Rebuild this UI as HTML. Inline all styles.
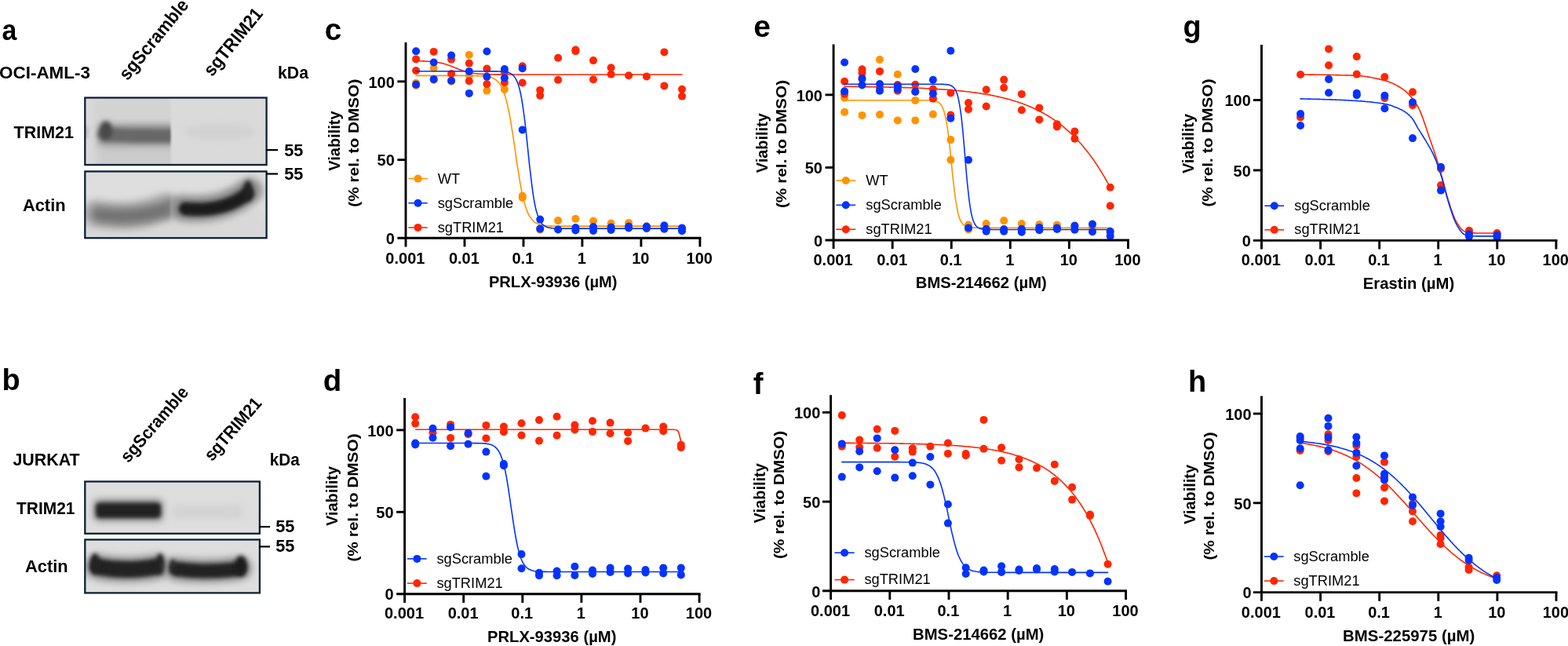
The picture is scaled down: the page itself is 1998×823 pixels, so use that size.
<!DOCTYPE html>
<html lang="en"><head><meta charset="utf-8"><title>Figure</title>
<style>html,body{margin:0;padding:0;background:#fff}body{width:1998px;height:823px;overflow:hidden}svg{display:block}text{font-family:'Liberation Sans', sans-serif}</style>
</head><body>
<svg width="1998" height="823" viewBox="0 0 1998 823">
<rect width="1998" height="823" fill="#fff"/>
<defs>
<filter id="b2" filterUnits="userSpaceOnUse" x="0" y="0" width="420" height="823"><feGaussianBlur stdDeviation="2.2"/></filter>
<filter id="b3" filterUnits="userSpaceOnUse" x="0" y="0" width="420" height="823"><feGaussianBlur stdDeviation="2.7"/></filter>
<filter id="b5" filterUnits="userSpaceOnUse" x="0" y="0" width="420" height="823"><feGaussianBlur stdDeviation="5"/></filter>
<filter id="b8" filterUnits="userSpaceOnUse" x="0" y="0" width="420" height="823"><feGaussianBlur stdDeviation="8"/></filter>
<filter id="b1" filterUnits="userSpaceOnUse" x="0" y="0" width="420" height="823"><feGaussianBlur stdDeviation="1.3"/></filter>
<clipPath id="la1"><rect x="100" y="100" width="117.5" height="130"/></clipPath>
<clipPath id="la2"><rect x="100" y="200" width="117" height="130"/></clipPath>
<clipPath id="ca1"><rect x="108.3" y="124.5" width="231.3" height="85.5"/></clipPath>
<clipPath id="ca2"><rect x="108.3" y="218.4" width="231.3" height="84.8"/></clipPath>
<clipPath id="cb1"><rect x="108.3" y="613.5" width="222.6" height="66.3"/></clipPath>
<clipPath id="cb2"><rect x="108.3" y="687.5" width="222.6" height="67.9"/></clipPath>
</defs>
<g clip-path="url(#ca1)">
<rect x="108.3" y="124.5" width="231.3" height="85.5" fill="#DADADA"/>
<g filter="url(#b1)"><g clip-path="url(#la1)">
<rect x="118" y="120" width="104" height="96" fill="#D3D3D3" filter="url(#b5)"/>
<rect x="126" y="184" width="100" height="30" fill="#CBCBCB" filter="url(#b5)"/>
<rect x="126" y="159" width="100" height="26" fill="#858585" filter="url(#b5)"/>
<path d="M132,171 Q170,174 224,173" stroke="#686868" stroke-width="16" fill="none" stroke-linecap="round" filter="url(#b3)"/>
<ellipse cx="135" cy="166" rx="8" ry="12" fill="#484848" filter="url(#b3)"/>
</g></g>
<ellipse cx="109" cy="168" rx="4" ry="9" fill="#BDBDBD" filter="url(#b3)"/>
<ellipse cx="280" cy="168" rx="48" ry="10" fill="#D1D1D1" filter="url(#b5)"/>
</g>
<rect x="108.3" y="124.5" width="231.3" height="85.5" fill="none" stroke="#0C2233" stroke-width="2.3"/>
<g clip-path="url(#ca2)">
<rect x="108.3" y="218.4" width="231.3" height="84.8" fill="#DEDEDE"/>
<rect x="100" y="268" width="250" height="50" fill="#D8D8D8" filter="url(#b8)"/>
<path d="M122,272 Q170,281 212,263" stroke="#A8A8A8" stroke-width="34" fill="none" stroke-linecap="round" filter="url(#b5)"/>
<g filter="url(#b1)"><g clip-path="url(#la2)">
<path d="M126,273 Q170,282 226,262" stroke="#727272" stroke-width="19" fill="none" stroke-linecap="round" filter="url(#b5)"/>
</g></g>
<path d="M233,265 Q282,271 318,243" stroke="#8A8A8A" stroke-width="33" fill="none" stroke-linecap="round" filter="url(#b5)"/>
<path d="M236,266 Q284,271 315,247" stroke="#1A1A1A" stroke-width="17" fill="none" stroke-linecap="round" filter="url(#b3)"/>
<ellipse cx="316" cy="243" rx="6" ry="13" fill="#222222" filter="url(#b3)"/>
</g>
<rect x="108.3" y="218.4" width="231.3" height="84.8" fill="none" stroke="#0C2233" stroke-width="2.3"/>
<g clip-path="url(#cb1)">
<rect x="108.3" y="613.5" width="222.6" height="66.3" fill="#DEDEDE"/>
<rect x="119" y="636" width="89" height="28" rx="6" fill="#8E8E8E" filter="url(#b5)"/>
<rect x="122" y="640.5" width="83" height="19.5" rx="5" fill="#202020" filter="url(#b3)"/>
<rect x="218" y="643" width="92" height="18" rx="6" fill="#D3D3D3" filter="url(#b5)"/>
</g>
<rect x="108.3" y="613.5" width="222.6" height="66.3" fill="none" stroke="#0C2233" stroke-width="2.3"/>
<g clip-path="url(#cb2)">
<rect x="108.3" y="687.5" width="222.6" height="67.9" fill="#DEDEDE"/>
<path d="M124,722 Q160,729 201,722" stroke="#8C8C8C" stroke-width="32" fill="none" stroke-linecap="round" filter="url(#b5)"/>
<path d="M125,722 Q160,729 200,722" stroke="#202020" stroke-width="21" fill="none" stroke-linecap="round" filter="url(#b3)"/>
<ellipse cx="121" cy="718" rx="6" ry="13" fill="#202020" filter="url(#b3)"/>
<ellipse cx="204" cy="718" rx="5" ry="13" fill="#202020" filter="url(#b3)"/>
<path d="M225,725 Q262,730 306,724" stroke="#8C8C8C" stroke-width="30" fill="none" stroke-linecap="round" filter="url(#b5)"/>
<path d="M225,725 Q262,730 304,725" stroke="#202020" stroke-width="18" fill="none" stroke-linecap="round" filter="url(#b3)"/>
<ellipse cx="220" cy="721" rx="4" ry="9" fill="#2A2A2A" filter="url(#b3)"/>
<ellipse cx="307" cy="721" rx="8" ry="13" fill="#1C1C1C" filter="url(#b3)"/>
</g>
<rect x="108.3" y="687.5" width="222.6" height="67.9" fill="none" stroke="#0C2233" stroke-width="2.3"/>
<text x="2.4" y="51.2" font-size="37" font-weight="700" textLength="18.8" lengthAdjust="spacingAndGlyphs">a</text>
<text x="2.4" y="497" font-size="38" font-weight="700">b</text>
<text x="-1" y="99.6" font-size="22.2" font-weight="700" textLength="116" lengthAdjust="spacingAndGlyphs">OCI-AML-3</text>
<text x="354" y="99.6" font-size="22.2" font-weight="700" textLength="39" lengthAdjust="spacingAndGlyphs">kDa</text>
<text x="17.6" y="176" font-size="22.2" font-weight="700" textLength="76.4" lengthAdjust="spacingAndGlyphs">TRIM21</text>
<text x="28.9" y="269.2" font-size="22.2" font-weight="700" textLength="54.7" lengthAdjust="spacingAndGlyphs">Actin</text>
<text x="162.5" y="103.5" font-size="23.5" font-weight="700" textLength="124.7" lengthAdjust="spacingAndGlyphs" transform="rotate(-50.7 162.5 103.5)">sgScramble</text>
<text x="270.3" y="98.4" font-size="23.5" font-weight="700" textLength="103.9" lengthAdjust="spacingAndGlyphs" transform="rotate(-50.7 270.3 98.4)">sgTRIM21</text>
<text x="16.4" y="592.8" font-size="21.6" font-weight="700" textLength="85.2" lengthAdjust="spacingAndGlyphs">JURKAT</text>
<text x="343.7" y="592.8" font-size="21.6" font-weight="700" textLength="38" lengthAdjust="spacingAndGlyphs">kDa</text>
<text x="21" y="655" font-size="21.6" font-weight="700" textLength="74.5" lengthAdjust="spacingAndGlyphs">TRIM21</text>
<text x="32" y="728.8" font-size="21.6" font-weight="700" textLength="54.7" lengthAdjust="spacingAndGlyphs">Actin</text>
<text x="163.5" y="590.5" font-size="22.5" font-weight="700" textLength="119" lengthAdjust="spacingAndGlyphs" transform="rotate(-49.2 163.5 590.5)">sgScramble</text>
<text x="270.2" y="588.6" font-size="22.5" font-weight="700" textLength="98.2" lengthAdjust="spacingAndGlyphs" transform="rotate(-49 270.2 588.6)">sgTRIM21</text>
<g stroke="#000" stroke-width="2.2">
<path d="M339,191.1 H354"/><path d="M339,221.5 H354"/>
<path d="M330,671.1 H344"/><path d="M330,696.4 H344"/>
</g>
<text x="362.2" y="199.3" font-size="21.7" font-weight="700" textLength="24.2" lengthAdjust="spacingAndGlyphs">55</text>
<text x="362.2" y="228.7" font-size="21.7" font-weight="700" textLength="24.2" lengthAdjust="spacingAndGlyphs">55</text>
<text x="351.2" y="678.3" font-size="21.7" font-weight="700" textLength="24.2" lengthAdjust="spacingAndGlyphs">55</text>
<text x="351.2" y="703.1" font-size="21.7" font-weight="700" textLength="24.2" lengthAdjust="spacingAndGlyphs">55</text>
<path d="M530.1,96.4 L531.5,96.4 L532.9,96.4 L534.4,96.4 L535.8,96.4 L537.2,96.4 L538.6,96.4 L540,96.4 L541.4,96.4 L542.9,96.4 L544.3,96.4 L545.7,96.4 L547.1,96.4 L548.5,96.4 L550,96.4 L551.4,96.4 L552.8,96.4 L554.2,96.4 L555.6,96.4 L557,96.4 L558.5,96.4 L559.9,96.4 L561.3,96.4 L562.7,96.4 L564.1,96.4 L565.5,96.4 L567,96.4 L568.4,96.4 L569.8,96.4 L571.2,96.4 L572.6,96.4 L574.1,96.4 L575.5,96.4 L576.9,96.4 L578.3,96.4 L579.7,96.4 L581.1,96.4 L582.6,96.4 L584,96.4 L585.4,96.4 L586.8,96.4 L588.2,96.4 L589.7,96.4 L591.1,96.4 L592.5,96.4 L593.9,96.4 L595.3,96.4 L596.7,96.5 L598.2,96.5 L599.6,96.5 L601,96.5 L602.4,96.5 L603.8,96.5 L605.3,96.5 L606.7,96.6 L608.1,96.6 L609.5,96.6 L610.9,96.7 L612.3,96.7 L613.8,96.8 L615.2,96.9 L616.6,97 L618,97.2 L619.4,97.3 L620.9,97.5 L622.3,97.8 L623.7,98.1 L625.1,98.5 L626.5,98.9 L627.9,99.5 L629.4,100.2 L630.8,101 L632.2,102 L633.6,103.2 L635,104.7 L636.4,106.5 L637.9,108.6 L639.3,111.2 L640.7,114.2 L642.1,117.8 L643.5,122 L645,126.9 L646.4,132.6 L647.8,139 L649.2,146.1 L650.6,154 L652,162.6 L653.5,171.7 L654.9,181.2 L656.3,191 L657.7,200.8 L659.1,210.4 L660.6,219.6 L662,228.4 L663.4,236.4 L664.8,243.8 L666.2,250.4 L667.6,256.2 L669.1,261.3 L670.5,265.7 L671.9,269.4 L673.3,272.6 L674.7,275.3 L676.2,277.5 L677.6,279.4 L679,281 L680.4,282.3 L681.8,283.3 L683.2,284.2 L684.7,284.9 L686.1,285.5 L687.5,286 L688.9,286.4 L690.3,286.7 L691.8,287 L693.2,287.2 L694.6,287.4 L696,287.5 L697.4,287.6 L698.8,287.7 L700.3,287.8 L701.7,287.9 L703.1,287.9 L704.5,288 L705.9,288 L707.3,288 L708.8,288 L710.2,288.1 L711.6,288.1 L713,288.1 L714.4,288.1 L715.9,288.1 L717.3,288.1 L718.7,288.1 L720.1,288.1 L721.5,288.1 L722.9,288.1 L724.4,288.1 L725.8,288.1 L727.2,288.1 L728.6,288.1 L730,288.1 L731.5,288.1 L732.9,288.1 L734.3,288.1 L735.7,288.1 L737.1,288.1 L738.5,288.1 L740,288.1 L741.4,288.1 L742.8,288.1 L744.2,288.1 L745.6,288.1 L747.1,288.1 L748.5,288.1 L749.9,288.1 L751.3,288.1 L752.7,288.1 L754.1,288.1 L755.6,288.1 L757,288.1 L758.4,288.1 L759.8,288.1 L761.2,288.1 L762.7,288.1 L764.1,288.1 L765.5,288.1 L766.9,288.1 L768.3,288.1 L769.7,288.1 L771.2,288.1 L772.6,288.1 L774,288.1 L775.4,288.1 L776.8,288.1 L778.2,288.1 L779.7,288.1 L781.1,288.1 L782.5,288.1 L783.9,288.1 L785.3,288.1 L786.8,288.1 L788.2,288.1 L789.6,288.1 L791,288.1 L792.4,288.1 L793.8,288.1 L795.3,288.1 L796.7,288.1 L798.1,288.1 L799.5,288.1 L800.9,288.1 L802.4,288.1 L803.8,288.1 L805.2,288.1 L806.6,288.1 L808,288.1 L809.4,288.1 L810.9,288.1 L812.3,288.1 L813.7,288.1 L815.1,288.1 L816.5,288.1 L818,288.1 L819.4,288.1 L820.8,288.1 L822.2,288.1 L823.6,288.1 L825,288.1 L826.5,288.1 L827.9,288.1 L829.3,288.1 L830.7,288.1 L832.1,288.1 L833.6,288.1 L835,288.1 L836.4,288.1 L837.8,288.1 L839.2,288.1 L840.6,288.1 L842.1,288.1 L843.5,288.1 L844.9,288.1 L846.3,288.1 L847.7,288.1 L849.1,288.1 L850.6,288.1 L852,288.1 L853.4,288.1 L854.8,288.1 L856.2,288.1 L857.7,288.1 L859.1,288.1 L860.5,288.1 L861.9,288.1 L863.3,288.1 L864.7,288.1 L866.2,288.1 L867.6,288.1 L869,288.1" fill="none" stroke="#FF9300" stroke-width="1.6" stroke-linejoin="round" stroke-linecap="round"/>
<g fill="#FF9300">
<circle cx="530.1" cy="105.9" r="5.0"/>
<circle cx="530.1" cy="109" r="5.0"/>
<circle cx="552.7" cy="86.7" r="5.0"/>
<circle cx="552.7" cy="101.9" r="5.0"/>
<circle cx="575.1" cy="103.8" r="5.0"/>
<circle cx="597.8" cy="69.9" r="5.0"/>
<circle cx="597.8" cy="96.4" r="5.0"/>
<circle cx="620.4" cy="115.6" r="5.0"/>
<circle cx="642.9" cy="113.9" r="5.0"/>
<circle cx="665.7" cy="249.6" r="5.0"/>
<circle cx="665.7" cy="252" r="5.0"/>
<circle cx="688.2" cy="292.8" r="5.0"/>
<circle cx="711.1" cy="281.1" r="5.0"/>
<circle cx="733.4" cy="278.8" r="5.0"/>
<circle cx="756" cy="281.5" r="5.0"/>
<circle cx="778.6" cy="284.6" r="5.0"/>
<circle cx="801.1" cy="284" r="5.0"/>
<circle cx="823.9" cy="288.5" r="5.0"/>
<circle cx="846.4" cy="288.5" r="5.0"/>
<circle cx="869" cy="292" r="5.0"/>
</g>
<path d="M530.1,77.6 L531.8,77.7 L533.5,77.7 L535.2,77.8 L536.9,77.8 L538.6,77.9 L540.3,77.9 L542,78 L543.7,78.1 L545.4,78.2 L547.1,78.3 L548.8,78.4 L550.5,78.6 L552.2,78.8 L553.9,79 L555.6,79.2 L557.3,79.5 L559.1,79.7 L560.8,80.1 L562.5,80.4 L564.2,80.8 L565.9,81.3 L567.6,81.8 L569.3,82.3 L571,82.9 L572.7,83.5 L574.4,84.1 L576.1,84.8 L577.8,85.5 L579.5,86.2 L581.2,86.8 L582.9,87.5 L584.6,88.2 L586.3,88.8 L588,89.4 L589.7,90 L591.4,90.6 L593.1,91.1 L594.8,91.5 L596.5,91.9 L598.2,92.3 L599.9,92.7 L601.6,93 L603.3,93.2 L605,93.5 L606.7,93.7 L608.4,93.9 L610.1,94 L611.8,94.2 L613.5,94.3 L615.3,94.4 L617,94.5 L618.7,94.5 L620.4,94.6 L622.1,94.7 L623.8,94.7 L625.5,94.8 L627.2,94.8 L628.9,94.8 L630.6,94.9 L632.3,94.9 L634,94.9 L635.7,94.9 L637.4,94.9 L639.1,94.9 L640.8,95 L642.5,95 L644.2,95 L645.9,95 L647.6,95 L649.3,95 L651,95 L652.7,95 L654.4,95 L656.1,95 L657.8,95 L659.5,95 L661.2,95 L662.9,95 L664.6,95 L666.3,95 L668,95 L669.7,95 L671.5,95 L673.2,95 L674.9,95 L676.6,95 L678.3,95 L680,95 L681.7,95 L683.4,95 L685.1,95 L686.8,95 L688.5,95 L690.2,95 L691.9,95 L693.6,95 L695.3,95 L697,95 L698.7,95 L700.4,95 L702.1,95 L703.8,95 L705.5,95 L707.2,95 L708.9,95 L710.6,95 L712.3,95 L714,95 L715.7,95 L717.4,95 L719.1,95 L720.8,95 L722.5,95 L724.2,95 L725.9,95 L727.6,95 L729.4,95 L731.1,95 L732.8,95 L734.5,95 L736.2,95 L737.9,95 L739.6,95 L741.3,95 L743,95 L744.7,95 L746.4,95 L748.1,95 L749.8,95 L751.5,95 L753.2,95 L754.9,95 L756.6,95 L758.3,95 L760,95 L761.7,95 L763.4,95 L765.1,95 L766.8,95 L768.5,95 L770.2,95 L771.9,95 L773.6,95 L775.3,95 L777,95 L778.7,95 L780.4,95 L782.1,95 L783.8,95 L785.6,95 L787.3,95 L789,95 L790.7,95 L792.4,95 L794.1,95 L795.8,95 L797.5,95 L799.2,95 L800.9,95 L802.6,95 L804.3,95 L806,95 L807.7,95 L809.4,95 L811.1,95 L812.8,95 L814.5,95 L816.2,95 L817.9,95 L819.6,95 L821.3,95 L823,95 L824.7,95 L826.4,95 L828.1,95 L829.8,95 L831.5,95 L833.2,95 L834.9,95 L836.6,95 L838.3,95 L840,95 L841.8,95 L843.5,95 L845.2,95 L846.9,95 L848.6,95 L850.3,95 L852,95 L853.7,95 L855.4,95 L857.1,95 L858.8,95 L860.5,95 L862.2,95 L863.9,95 L865.6,95 L867.3,95 L869,95" fill="none" stroke="#FF2600" stroke-width="1.6" stroke-linejoin="round" stroke-linecap="round"/>
<g fill="#FF2600">
<circle cx="530.1" cy="75.4" r="5.0"/>
<circle cx="530.1" cy="90" r="5.0"/>
<circle cx="552.7" cy="65.9" r="5.0"/>
<circle cx="575.1" cy="75.6" r="5.0"/>
<circle cx="575.1" cy="93.9" r="5.0"/>
<circle cx="597.8" cy="80.6" r="5.0"/>
<circle cx="597.8" cy="103.2" r="5.0"/>
<circle cx="620.4" cy="87.6" r="5.0"/>
<circle cx="620.4" cy="107.1" r="5.0"/>
<circle cx="642.9" cy="91.5" r="5.0"/>
<circle cx="642.9" cy="105.1" r="5.0"/>
<circle cx="665.7" cy="84.3" r="5.0"/>
<circle cx="665.7" cy="105.5" r="5.0"/>
<circle cx="688.2" cy="114.9" r="5.0"/>
<circle cx="688.2" cy="121.7" r="5.0"/>
<circle cx="711.1" cy="73.8" r="5.0"/>
<circle cx="711.1" cy="101.8" r="5.0"/>
<circle cx="733.4" cy="63.6" r="5.0"/>
<circle cx="733.4" cy="65.2" r="5.0"/>
<circle cx="756" cy="77.1" r="5.0"/>
<circle cx="756" cy="101.2" r="5.0"/>
<circle cx="778.6" cy="86.3" r="5.0"/>
<circle cx="778.6" cy="94.6" r="5.0"/>
<circle cx="801.1" cy="96.2" r="5.0"/>
<circle cx="823.9" cy="97.4" r="5.0"/>
<circle cx="846.4" cy="66.4" r="5.0"/>
<circle cx="846.4" cy="109.4" r="5.0"/>
<circle cx="869" cy="113.7" r="5.0"/>
<circle cx="869" cy="122.6" r="5.0"/>
</g>
<path d="M530.1,90.8 L531.5,90.8 L532.9,90.8 L534.4,90.8 L535.8,90.8 L537.2,90.8 L538.6,90.8 L540,90.8 L541.4,90.8 L542.9,90.8 L544.3,90.8 L545.7,90.8 L547.1,90.8 L548.5,90.8 L550,90.8 L551.4,90.8 L552.8,90.8 L554.2,90.8 L555.6,90.8 L557,90.8 L558.5,90.8 L559.9,90.8 L561.3,90.8 L562.7,90.8 L564.1,90.8 L565.5,90.8 L567,90.8 L568.4,90.8 L569.8,90.8 L571.2,90.8 L572.6,90.8 L574.1,90.8 L575.5,90.8 L576.9,90.8 L578.3,90.8 L579.7,90.8 L581.1,90.8 L582.6,90.8 L584,90.8 L585.4,90.8 L586.8,90.8 L588.2,90.8 L589.7,90.8 L591.1,90.8 L592.5,90.8 L593.9,90.8 L595.3,90.8 L596.7,90.8 L598.2,90.8 L599.6,90.8 L601,90.8 L602.4,90.8 L603.8,90.8 L605.3,90.8 L606.7,90.8 L608.1,90.8 L609.5,90.8 L610.9,90.8 L612.3,90.8 L613.8,90.8 L615.2,90.8 L616.6,90.8 L618,90.8 L619.4,90.8 L620.9,90.8 L622.3,90.8 L623.7,90.8 L625.1,90.9 L626.5,90.9 L627.9,90.9 L629.4,90.9 L630.8,90.9 L632.2,90.9 L633.6,90.9 L635,91 L636.4,91 L637.9,91.1 L639.3,91.1 L640.7,91.2 L642.1,91.4 L643.5,91.5 L645,91.8 L646.4,92.1 L647.8,92.4 L649.2,92.9 L650.6,93.6 L652,94.4 L653.5,95.6 L654.9,97 L656.3,98.9 L657.7,101.3 L659.1,104.4 L660.6,108.3 L662,113.1 L663.4,119.2 L664.8,126.5 L666.2,135.3 L667.6,145.5 L669.1,157.1 L670.5,169.7 L671.9,183.2 L673.3,196.9 L674.7,210.4 L676.2,223.2 L677.6,234.9 L679,245.3 L680.4,254.3 L681.8,261.8 L683.2,268.1 L684.7,273.1 L686.1,277.1 L687.5,280.3 L688.9,282.8 L690.3,284.7 L691.8,286.2 L693.2,287.4 L694.6,288.3 L696,288.9 L697.4,289.5 L698.8,289.9 L700.3,290.2 L701.7,290.4 L703.1,290.6 L704.5,290.7 L705.9,290.8 L707.3,290.9 L708.8,290.9 L710.2,291 L711.6,291 L713,291 L714.4,291.1 L715.9,291.1 L717.3,291.1 L718.7,291.1 L720.1,291.1 L721.5,291.1 L722.9,291.1 L724.4,291.1 L725.8,291.1 L727.2,291.1 L728.6,291.1 L730,291.1 L731.5,291.1 L732.9,291.1 L734.3,291.1 L735.7,291.1 L737.1,291.1 L738.5,291.1 L740,291.1 L741.4,291.1 L742.8,291.1 L744.2,291.1 L745.6,291.1 L747.1,291.1 L748.5,291.1 L749.9,291.1 L751.3,291.1 L752.7,291.1 L754.1,291.1 L755.6,291.1 L757,291.1 L758.4,291.1 L759.8,291.1 L761.2,291.1 L762.7,291.1 L764.1,291.1 L765.5,291.1 L766.9,291.1 L768.3,291.1 L769.7,291.1 L771.2,291.1 L772.6,291.1 L774,291.1 L775.4,291.1 L776.8,291.1 L778.2,291.1 L779.7,291.1 L781.1,291.1 L782.5,291.1 L783.9,291.1 L785.3,291.1 L786.8,291.1 L788.2,291.1 L789.6,291.1 L791,291.1 L792.4,291.1 L793.8,291.1 L795.3,291.1 L796.7,291.1 L798.1,291.1 L799.5,291.1 L800.9,291.1 L802.4,291.1 L803.8,291.1 L805.2,291.1 L806.6,291.1 L808,291.1 L809.4,291.1 L810.9,291.1 L812.3,291.1 L813.7,291.1 L815.1,291.1 L816.5,291.1 L818,291.1 L819.4,291.1 L820.8,291.1 L822.2,291.1 L823.6,291.1 L825,291.1 L826.5,291.1 L827.9,291.1 L829.3,291.1 L830.7,291.1 L832.1,291.1 L833.6,291.1 L835,291.1 L836.4,291.1 L837.8,291.1 L839.2,291.1 L840.6,291.1 L842.1,291.1 L843.5,291.1 L844.9,291.1 L846.3,291.1 L847.7,291.1 L849.1,291.1 L850.6,291.1 L852,291.1 L853.4,291.1 L854.8,291.1 L856.2,291.1 L857.7,291.1 L859.1,291.1 L860.5,291.1 L861.9,291.1 L863.3,291.1 L864.7,291.1 L866.2,291.1 L867.6,291.1 L869,291.1" fill="none" stroke="#0433FF" stroke-width="1.6" stroke-linejoin="round" stroke-linecap="round"/>
<g fill="#0433FF">
<circle cx="530.1" cy="65.3" r="5.0"/>
<circle cx="530.1" cy="107.7" r="5.0"/>
<circle cx="552.7" cy="79.5" r="5.0"/>
<circle cx="552.7" cy="100.9" r="5.0"/>
<circle cx="575.1" cy="70.5" r="5.0"/>
<circle cx="575.1" cy="102.8" r="5.0"/>
<circle cx="597.8" cy="90.9" r="5.0"/>
<circle cx="597.8" cy="118.9" r="5.0"/>
<circle cx="620.4" cy="65.5" r="5.0"/>
<circle cx="620.4" cy="97.6" r="5.0"/>
<circle cx="642.9" cy="88" r="5.0"/>
<circle cx="642.9" cy="99.3" r="5.0"/>
<circle cx="665.7" cy="87.2" r="5.0"/>
<circle cx="665.7" cy="165.4" r="5.0"/>
<circle cx="688.2" cy="279.6" r="5.0"/>
<circle cx="688.2" cy="291.4" r="5.0"/>
<circle cx="711.1" cy="292.4" r="5.0"/>
<circle cx="733.4" cy="290" r="5.0"/>
<circle cx="733.4" cy="293.5" r="5.0"/>
<circle cx="756" cy="289" r="5.0"/>
<circle cx="756" cy="294" r="5.0"/>
<circle cx="778.6" cy="289.5" r="5.0"/>
<circle cx="778.6" cy="293" r="5.0"/>
<circle cx="801.1" cy="288.5" r="5.0"/>
<circle cx="801.1" cy="290.5" r="5.0"/>
<circle cx="823.9" cy="288.5" r="5.0"/>
<circle cx="823.9" cy="291" r="5.0"/>
<circle cx="846.4" cy="287.3" r="5.0"/>
<circle cx="846.4" cy="291.8" r="5.0"/>
<circle cx="869" cy="290.4" r="5.0"/>
<circle cx="869" cy="294.3" r="5.0"/>
</g>
<g stroke="#000" stroke-width="2.9" fill="none" stroke-linecap="butt">
<path d="M517,54 V314.4"/>
<path d="M506.4,303.3 H893.4"/>
<path d="M592,303.3 V314.4"/>
<path d="M667,303.3 V314.4"/>
<path d="M741.9,303.3 V314.4"/>
<path d="M816.9,303.3 V314.4"/>
<path d="M891.9,303.3 V314.4"/>
<path d="M506.4,203.6 H517"/>
<path d="M506.4,103.8 H517"/>
</g>
<g font-size="20" font-weight="700">
<text x="516.4" y="336.2" text-anchor="middle">0.001</text>
<text x="591.4" y="336.2" text-anchor="middle">0.01</text>
<text x="666.4" y="336.2" text-anchor="middle">0.1</text>
<text x="741.3" y="336.2" text-anchor="middle">1</text>
<text x="816.3" y="336.2" text-anchor="middle">10</text>
<text x="891.3" y="336.2" text-anchor="middle">100</text>
<text x="502.8" y="311" text-anchor="end">0</text>
<text x="502.8" y="211.2" text-anchor="end">50</text>
<text x="502.8" y="111.5" text-anchor="end">100</text>
</g>
<path d="M520.4,227.6 H544.7" stroke="#FF9300" stroke-width="1.6"/>
<circle cx="532.5" cy="227.6" r="5" fill="#FF9300"/>
<text x="557.7" y="233.5" font-size="18.3">WT</text>
<path d="M520.4,258.7 H544.7" stroke="#0433FF" stroke-width="1.6"/>
<circle cx="532.5" cy="258.7" r="5" fill="#0433FF"/>
<text x="557.7" y="264.7" font-size="18.3">sgScramble</text>
<path d="M520.4,289.9 H544.7" stroke="#FF2600" stroke-width="1.6"/>
<circle cx="532.5" cy="289.9" r="5" fill="#FF2600"/>
<text x="557.7" y="295.9" font-size="18.3">sgTRIM21</text>
<text x="704.7" y="366.4" font-size="20" font-weight="700" text-anchor="middle" textLength="163.5" lengthAdjust="spacingAndGlyphs">PRLX-93936 (µM)</text>
<text x="433" y="179.6" font-size="20" font-weight="700" text-anchor="middle" textLength="76.2" lengthAdjust="spacingAndGlyphs" transform="rotate(-90 433 179.6)">Viability</text>
<text x="457.1" y="182.2" font-size="18.3" font-weight="700" text-anchor="middle" textLength="163.2" lengthAdjust="spacingAndGlyphs" transform="rotate(-90 457.1 182.2)">(% rel. to DMSO)</text>
<text x="413.7" y="50.5" font-size="38.6" font-weight="700">c</text>
<path d="M529.2,547.2 H858 C863.5,547.2 864.6,549 865.6,553.5 L867.6,562.5" fill="none" stroke="#FF2600" stroke-width="1.6"/>
<g fill="#FF2600">
<circle cx="529.2" cy="531.2" r="5.0"/>
<circle cx="529.2" cy="539.6" r="5.0"/>
<circle cx="551.5" cy="551.2" r="5.0"/>
<circle cx="574.1" cy="540.9" r="5.0"/>
<circle cx="574.1" cy="557.9" r="5.0"/>
<circle cx="596.6" cy="553.2" r="5.0"/>
<circle cx="619.4" cy="541.9" r="5.0"/>
<circle cx="619.4" cy="558.4" r="5.0"/>
<circle cx="641.9" cy="543.5" r="5.0"/>
<circle cx="641.9" cy="550.3" r="5.0"/>
<circle cx="664.5" cy="539.2" r="5.0"/>
<circle cx="664.5" cy="554.6" r="5.0"/>
<circle cx="687" cy="535.1" r="5.0"/>
<circle cx="687" cy="561.6" r="5.0"/>
<circle cx="709.6" cy="530.8" r="5.0"/>
<circle cx="709.6" cy="554.7" r="5.0"/>
<circle cx="732.4" cy="541.5" r="5.0"/>
<circle cx="732.4" cy="547.4" r="5.0"/>
<circle cx="755" cy="536.3" r="5.0"/>
<circle cx="755" cy="549.9" r="5.0"/>
<circle cx="777.6" cy="538.6" r="5.0"/>
<circle cx="777.6" cy="552.2" r="5.0"/>
<circle cx="800.1" cy="551.2" r="5.0"/>
<circle cx="800.1" cy="561.9" r="5.0"/>
<circle cx="822.5" cy="545.6" r="5.0"/>
<circle cx="845.2" cy="543.5" r="5.0"/>
<circle cx="845.2" cy="549.3" r="5.0"/>
<circle cx="867.8" cy="566.8" r="5.0"/>
<circle cx="867.8" cy="570.1" r="5.0"/>
</g>
<path d="M529.2,564.5 L530.6,564.5 L532,564.5 L533.5,564.5 L534.9,564.5 L536.3,564.5 L537.7,564.5 L539.1,564.5 L540.5,564.5 L542,564.5 L543.4,564.5 L544.8,564.5 L546.2,564.5 L547.6,564.5 L549,564.5 L550.5,564.5 L551.9,564.5 L553.3,564.5 L554.7,564.5 L556.1,564.5 L557.5,564.5 L559,564.5 L560.4,564.5 L561.8,564.5 L563.2,564.5 L564.6,564.5 L566,564.5 L567.5,564.5 L568.9,564.5 L570.3,564.5 L571.7,564.5 L573.1,564.5 L574.5,564.5 L576,564.5 L577.4,564.5 L578.8,564.5 L580.2,564.5 L581.6,564.5 L583,564.5 L584.5,564.5 L585.9,564.5 L587.3,564.5 L588.7,564.5 L590.1,564.5 L591.5,564.5 L593,564.5 L594.4,564.5 L595.8,564.5 L597.2,564.5 L598.6,564.5 L600,564.5 L601.5,564.5 L602.9,564.5 L604.3,564.6 L605.7,564.6 L607.1,564.6 L608.5,564.6 L610,564.6 L611.4,564.7 L612.8,564.7 L614.2,564.8 L615.6,564.9 L617,565 L618.5,565.1 L619.9,565.3 L621.3,565.5 L622.7,565.7 L624.1,566.1 L625.5,566.5 L627,567 L628.4,567.7 L629.8,568.6 L631.2,569.6 L632.6,571 L634,572.7 L635.5,574.8 L636.9,577.4 L638.3,580.6 L639.7,584.4 L641.1,589 L642.5,594.5 L644,600.9 L645.4,608.2 L646.8,616.4 L648.2,625.4 L649.6,634.9 L651,644.7 L652.5,654.6 L653.9,664.3 L655.3,673.4 L656.7,681.9 L658.1,689.5 L659.5,696.3 L661,702.1 L662.4,707 L663.8,711.2 L665.2,714.6 L666.6,717.4 L668,719.6 L669.5,721.5 L670.9,722.9 L672.3,724.1 L673.7,725 L675.1,725.8 L676.5,726.3 L678,726.8 L679.4,727.2 L680.8,727.5 L682.2,727.7 L683.6,727.9 L685,728 L686.5,728.1 L687.9,728.2 L689.3,728.3 L690.7,728.3 L692.1,728.4 L693.5,728.4 L695,728.4 L696.4,728.4 L697.8,728.5 L699.2,728.5 L700.6,728.5 L702,728.5 L703.5,728.5 L704.9,728.5 L706.3,728.5 L707.7,728.5 L709.1,728.5 L710.5,728.5 L712,728.5 L713.4,728.5 L714.8,728.5 L716.2,728.5 L717.6,728.5 L719,728.5 L720.5,728.5 L721.9,728.5 L723.3,728.5 L724.7,728.5 L726.1,728.5 L727.5,728.5 L729,728.5 L730.4,728.5 L731.8,728.5 L733.2,728.5 L734.6,728.5 L736,728.5 L737.5,728.5 L738.9,728.5 L740.3,728.5 L741.7,728.5 L743.1,728.5 L744.5,728.5 L746,728.5 L747.4,728.5 L748.8,728.5 L750.2,728.5 L751.6,728.5 L753,728.5 L754.5,728.5 L755.9,728.5 L757.3,728.5 L758.7,728.5 L760.1,728.5 L761.5,728.5 L763,728.5 L764.4,728.5 L765.8,728.5 L767.2,728.5 L768.6,728.5 L770,728.5 L771.5,728.5 L772.9,728.5 L774.3,728.5 L775.7,728.5 L777.1,728.5 L778.5,728.5 L780,728.5 L781.4,728.5 L782.8,728.5 L784.2,728.5 L785.6,728.5 L787,728.5 L788.5,728.5 L789.9,728.5 L791.3,728.5 L792.7,728.5 L794.1,728.5 L795.5,728.5 L797,728.5 L798.4,728.5 L799.8,728.5 L801.2,728.5 L802.6,728.5 L804,728.5 L805.5,728.5 L806.9,728.5 L808.3,728.5 L809.7,728.5 L811.1,728.5 L812.5,728.5 L814,728.5 L815.4,728.5 L816.8,728.5 L818.2,728.5 L819.6,728.5 L821,728.5 L822.5,728.5 L823.9,728.5 L825.3,728.5 L826.7,728.5 L828.1,728.5 L829.5,728.5 L831,728.5 L832.4,728.5 L833.8,728.5 L835.2,728.5 L836.6,728.5 L838,728.5 L839.5,728.5 L840.9,728.5 L842.3,728.5 L843.7,728.5 L845.1,728.5 L846.5,728.5 L848,728.5 L849.4,728.5 L850.8,728.5 L852.2,728.5 L853.6,728.5 L855,728.5 L856.5,728.5 L857.9,728.5 L859.3,728.5 L860.7,728.5 L862.1,728.5 L863.5,728.5 L865,728.5 L866.4,728.5 L867.8,728.5" fill="none" stroke="#0433FF" stroke-width="1.6" stroke-linejoin="round" stroke-linecap="round"/>
<g fill="#0433FF">
<circle cx="529.2" cy="564.6" r="5.0"/>
<circle cx="529.2" cy="566.4" r="5.0"/>
<circle cx="551.5" cy="545.8" r="5.0"/>
<circle cx="551.5" cy="557.7" r="5.0"/>
<circle cx="574.1" cy="544.2" r="5.0"/>
<circle cx="574.1" cy="568.2" r="5.0"/>
<circle cx="596.6" cy="551.8" r="5.0"/>
<circle cx="596.6" cy="565.8" r="5.0"/>
<circle cx="619.4" cy="575.6" r="5.0"/>
<circle cx="619.4" cy="606.7" r="5.0"/>
<circle cx="641.9" cy="591" r="5.0"/>
<circle cx="641.9" cy="593.2" r="5.0"/>
<circle cx="664.5" cy="706.1" r="5.0"/>
<circle cx="664.5" cy="724.2" r="5.0"/>
<circle cx="687" cy="729.8" r="5.0"/>
<circle cx="687" cy="733.3" r="5.0"/>
<circle cx="709.6" cy="727.5" r="5.0"/>
<circle cx="709.6" cy="733.3" r="5.0"/>
<circle cx="732.4" cy="721.7" r="5.0"/>
<circle cx="732.4" cy="732.9" r="5.0"/>
<circle cx="755" cy="726.5" r="5.0"/>
<circle cx="755" cy="731" r="5.0"/>
<circle cx="777.6" cy="723.6" r="5.0"/>
<circle cx="777.6" cy="728.9" r="5.0"/>
<circle cx="800.1" cy="724.6" r="5.0"/>
<circle cx="800.1" cy="730.4" r="5.0"/>
<circle cx="822.5" cy="726.1" r="5.0"/>
<circle cx="822.5" cy="729.4" r="5.0"/>
<circle cx="845.2" cy="723.6" r="5.0"/>
<circle cx="845.2" cy="730.4" r="5.0"/>
<circle cx="867.8" cy="723.6" r="5.0"/>
<circle cx="867.8" cy="732.4" r="5.0"/>
</g>
<g stroke="#000" stroke-width="2.9" fill="none" stroke-linecap="butt">
<path d="M515.6,507.1 V767.9"/>
<path d="M505.1,756.7 H892.6"/>
<path d="M590.7,756.7 V767.9"/>
<path d="M665.8,756.7 V767.9"/>
<path d="M740.9,756.7 V767.9"/>
<path d="M816,756.7 V767.9"/>
<path d="M891.1,756.7 V767.9"/>
<path d="M505.1,652.3 H515.6"/>
<path d="M505.1,547.9 H515.6"/>
</g>
<g font-size="20" font-weight="700">
<text x="515" y="788.3" text-anchor="middle">0.001</text>
<text x="590.1" y="788.3" text-anchor="middle">0.01</text>
<text x="665.2" y="788.3" text-anchor="middle">0.1</text>
<text x="740.3" y="788.3" text-anchor="middle">1</text>
<text x="815.4" y="788.3" text-anchor="middle">10</text>
<text x="890.5" y="788.3" text-anchor="middle">100</text>
<text x="501.6" y="764.4" text-anchor="end">0</text>
<text x="501.6" y="660" text-anchor="end">50</text>
<text x="501.6" y="555.6" text-anchor="end">100</text>
</g>
<path d="M519,711.9 H543.7" stroke="#0433FF" stroke-width="1.6"/>
<circle cx="531.4" cy="711.9" r="5" fill="#0433FF"/>
<text x="556.4" y="717.6" font-size="18.3">sgScramble</text>
<path d="M519,743.1 H543.7" stroke="#FF2600" stroke-width="1.6"/>
<circle cx="531.4" cy="743.1" r="5" fill="#FF2600"/>
<text x="556.4" y="748.9" font-size="18.3">sgTRIM21</text>
<text x="703.2" y="817.9" font-size="20" font-weight="700" text-anchor="middle" textLength="164.5" lengthAdjust="spacingAndGlyphs">PRLX-93936 (µM)</text>
<text x="430.4" y="632" font-size="20" font-weight="700" text-anchor="middle" textLength="76.2" lengthAdjust="spacingAndGlyphs" transform="rotate(-90 430.4 632)">Viability</text>
<text x="455.6" y="634" font-size="18.3" font-weight="700" text-anchor="middle" textLength="163.2" lengthAdjust="spacingAndGlyphs" transform="rotate(-90 455.6 634)">(% rel. to DMSO)</text>
<text x="411.8" y="497.6" font-size="38.5" font-weight="700">d</text>
<path d="M1076.1,127.7 L1077.5,127.7 L1078.9,127.7 L1080.4,127.7 L1081.8,127.7 L1083.2,127.7 L1084.6,127.7 L1086,127.7 L1087.4,127.7 L1088.9,127.7 L1090.3,127.7 L1091.7,127.7 L1093.1,127.7 L1094.5,127.7 L1095.9,127.7 L1097.4,127.7 L1098.8,127.7 L1100.2,127.7 L1101.6,127.7 L1103,127.7 L1104.4,127.7 L1105.9,127.7 L1107.3,127.7 L1108.7,127.7 L1110.1,127.7 L1111.5,127.7 L1112.9,127.7 L1114.4,127.7 L1115.8,127.7 L1117.2,127.7 L1118.6,127.7 L1120,127.7 L1121.4,127.7 L1122.9,127.7 L1124.3,127.7 L1125.7,127.7 L1127.1,127.7 L1128.5,127.7 L1129.9,127.7 L1131.4,127.7 L1132.8,127.7 L1134.2,127.7 L1135.6,127.7 L1137,127.7 L1138.4,127.7 L1139.9,127.7 L1141.3,127.7 L1142.7,127.7 L1144.1,127.7 L1145.5,127.7 L1146.9,127.7 L1148.4,127.7 L1149.8,127.7 L1151.2,127.7 L1152.6,127.7 L1154,127.7 L1155.4,127.7 L1156.9,127.7 L1158.3,127.7 L1159.7,127.7 L1161.1,127.7 L1162.5,127.7 L1163.9,127.7 L1165.4,127.7 L1166.8,127.7 L1168.2,127.7 L1169.6,127.7 L1171,127.7 L1172.4,127.7 L1173.9,127.7 L1175.3,127.7 L1176.7,127.7 L1178.1,127.7 L1179.5,127.7 L1180.9,127.7 L1182.4,127.8 L1183.8,127.8 L1185.2,127.9 L1186.6,127.9 L1188,128.1 L1189.4,128.2 L1190.9,128.5 L1192.3,128.8 L1193.7,129.3 L1195.1,129.9 L1196.5,130.8 L1197.9,132.1 L1199.4,133.9 L1200.8,136.3 L1202.2,139.7 L1203.6,144.2 L1205,150.1 L1206.4,157.7 L1207.9,167.2 L1209.3,178.5 L1210.7,191.3 L1212.1,205.2 L1213.5,219.2 L1214.9,232.7 L1216.4,244.9 L1217.8,255.4 L1219.2,263.9 L1220.6,270.7 L1222,276 L1223.4,279.9 L1224.9,282.8 L1226.3,284.9 L1227.7,286.4 L1229.1,287.5 L1230.5,288.3 L1231.9,288.9 L1233.4,289.3 L1234.8,289.6 L1236.2,289.8 L1237.6,289.9 L1239,290 L1240.4,290.1 L1241.9,290.1 L1243.3,290.2 L1244.7,290.2 L1246.1,290.2 L1247.5,290.2 L1248.9,290.2 L1250.4,290.2 L1251.8,290.2 L1253.2,290.3 L1254.6,290.3 L1256,290.3 L1257.4,290.3 L1258.9,290.3 L1260.3,290.3 L1261.7,290.3 L1263.1,290.3 L1264.5,290.3 L1265.9,290.3 L1267.4,290.3 L1268.8,290.3 L1270.2,290.3 L1271.6,290.3 L1273,290.3 L1274.4,290.3 L1275.9,290.3 L1277.3,290.3 L1278.7,290.3 L1280.1,290.3 L1281.5,290.3 L1282.9,290.3 L1284.4,290.3 L1285.8,290.3 L1287.2,290.3 L1288.6,290.3 L1290,290.3 L1291.4,290.3 L1292.9,290.3 L1294.3,290.3 L1295.7,290.3 L1297.1,290.3 L1298.5,290.3 L1299.9,290.3 L1301.4,290.3 L1302.8,290.3 L1304.2,290.3 L1305.6,290.3 L1307,290.3 L1308.4,290.3 L1309.9,290.3 L1311.3,290.3 L1312.7,290.3 L1314.1,290.3 L1315.5,290.3 L1316.9,290.3 L1318.4,290.3 L1319.8,290.3 L1321.2,290.3 L1322.6,290.3 L1324,290.3 L1325.4,290.3 L1326.9,290.3 L1328.3,290.3 L1329.7,290.3 L1331.1,290.3 L1332.5,290.3 L1333.9,290.3 L1335.4,290.3 L1336.8,290.3 L1338.2,290.3 L1339.6,290.3 L1341,290.3 L1342.4,290.3 L1343.9,290.3 L1345.3,290.3 L1346.7,290.3 L1348.1,290.3 L1349.5,290.3 L1350.9,290.3 L1352.4,290.3 L1353.8,290.3 L1355.2,290.3 L1356.6,290.3 L1358,290.3 L1359.4,290.3 L1360.9,290.3 L1362.3,290.3 L1363.7,290.3 L1365.1,290.3 L1366.5,290.3 L1367.9,290.3 L1369.4,290.3 L1370.8,290.3 L1372.2,290.3 L1373.6,290.3 L1375,290.3 L1376.4,290.3 L1377.9,290.3 L1379.3,290.3 L1380.7,290.3 L1382.1,290.3 L1383.5,290.3 L1384.9,290.3 L1386.4,290.3 L1387.8,290.3 L1389.2,290.3 L1390.6,290.3 L1392,290.3 L1393.4,290.3 L1394.9,290.3 L1396.3,290.3 L1397.7,290.3 L1399.1,290.3 L1400.5,290.3 L1401.9,290.3 L1403.4,290.3 L1404.8,290.3 L1406.2,290.3 L1407.6,290.3 L1409,290.3 L1410.4,290.3 L1411.9,290.3 L1413.3,290.3 L1414.7,290.3" fill="none" stroke="#FF9300" stroke-width="1.6" stroke-linejoin="round" stroke-linecap="round"/>
<g fill="#FF9300">
<circle cx="1076.1" cy="124.6" r="5.0"/>
<circle cx="1076.1" cy="142.7" r="5.0"/>
<circle cx="1098.5" cy="101.5" r="5.0"/>
<circle cx="1098.5" cy="146.9" r="5.0"/>
<circle cx="1121" cy="76" r="5.0"/>
<circle cx="1121" cy="146" r="5.0"/>
<circle cx="1143.8" cy="94.8" r="5.0"/>
<circle cx="1143.8" cy="153.4" r="5.0"/>
<circle cx="1166.3" cy="127.9" r="5.0"/>
<circle cx="1166.3" cy="153.4" r="5.0"/>
<circle cx="1188.9" cy="145.6" r="5.0"/>
<circle cx="1188.9" cy="125.6" r="5.0"/>
<circle cx="1211.4" cy="178.1" r="5.0"/>
<circle cx="1211.4" cy="203.7" r="5.0"/>
<circle cx="1234" cy="286.6" r="5.0"/>
<circle cx="1234" cy="292.5" r="5.0"/>
<circle cx="1256.7" cy="285" r="5.0"/>
<circle cx="1279.2" cy="281.1" r="5.0"/>
<circle cx="1301.8" cy="285" r="5.0"/>
<circle cx="1324.3" cy="286" r="5.0"/>
<circle cx="1346.9" cy="286.6" r="5.0"/>
<circle cx="1369.4" cy="288" r="5.0"/>
<circle cx="1392" cy="290" r="5.0"/>
<circle cx="1414.7" cy="296.7" r="5.0"/>
</g>
<path d="M1076.1,110.3 L1077.5,110.3 L1078.9,110.3 L1080.4,110.3 L1081.8,110.3 L1083.2,110.3 L1084.6,110.3 L1086,110.4 L1087.4,110.4 L1088.9,110.4 L1090.3,110.4 L1091.7,110.4 L1093.1,110.4 L1094.5,110.4 L1095.9,110.5 L1097.4,110.5 L1098.8,110.5 L1100.2,110.5 L1101.6,110.5 L1103,110.6 L1104.4,110.6 L1105.9,110.6 L1107.3,110.6 L1108.7,110.6 L1110.1,110.7 L1111.5,110.7 L1112.9,110.7 L1114.4,110.7 L1115.8,110.7 L1117.2,110.8 L1118.6,110.8 L1120,110.8 L1121.4,110.8 L1122.9,110.9 L1124.3,110.9 L1125.7,110.9 L1127.1,111 L1128.5,111 L1129.9,111 L1131.4,111 L1132.8,111.1 L1134.2,111.1 L1135.6,111.1 L1137,111.2 L1138.4,111.2 L1139.9,111.2 L1141.3,111.3 L1142.7,111.3 L1144.1,111.4 L1145.5,111.4 L1146.9,111.4 L1148.4,111.5 L1149.8,111.5 L1151.2,111.6 L1152.6,111.6 L1154,111.6 L1155.4,111.7 L1156.9,111.7 L1158.3,111.8 L1159.7,111.8 L1161.1,111.9 L1162.5,111.9 L1163.9,112 L1165.4,112 L1166.8,112.1 L1168.2,112.1 L1169.6,112.2 L1171,112.3 L1172.4,112.3 L1173.9,112.4 L1175.3,112.4 L1176.7,112.5 L1178.1,112.6 L1179.5,112.6 L1180.9,112.7 L1182.4,112.8 L1183.8,112.9 L1185.2,112.9 L1186.6,113 L1188,113.1 L1189.4,113.2 L1190.9,113.2 L1192.3,113.3 L1193.7,113.4 L1195.1,113.5 L1196.5,113.6 L1197.9,113.7 L1199.4,113.8 L1200.8,113.9 L1202.2,114 L1203.6,114.1 L1205,114.2 L1206.4,114.3 L1207.9,114.4 L1209.3,114.5 L1210.7,114.6 L1212.1,114.7 L1213.5,114.9 L1214.9,115 L1216.4,115.1 L1217.8,115.2 L1219.2,115.4 L1220.6,115.5 L1222,115.6 L1223.4,115.8 L1224.9,115.9 L1226.3,116.1 L1227.7,116.2 L1229.1,116.4 L1230.5,116.5 L1231.9,116.7 L1233.4,116.8 L1234.8,117 L1236.2,117.2 L1237.6,117.4 L1239,117.5 L1240.4,117.7 L1241.9,117.9 L1243.3,118.1 L1244.7,118.3 L1246.1,118.5 L1247.5,118.7 L1248.9,118.9 L1250.4,119.2 L1251.8,119.4 L1253.2,119.6 L1254.6,119.8 L1256,120.1 L1257.4,120.3 L1258.9,120.6 L1260.3,120.8 L1261.7,121.1 L1263.1,121.4 L1264.5,121.6 L1265.9,121.9 L1267.4,122.2 L1268.8,122.5 L1270.2,122.8 L1271.6,123.1 L1273,123.4 L1274.4,123.8 L1275.9,124.1 L1277.3,124.4 L1278.7,124.8 L1280.1,125.1 L1281.5,125.5 L1282.9,125.9 L1284.4,126.2 L1285.8,126.6 L1287.2,127 L1288.6,127.4 L1290,127.8 L1291.4,128.3 L1292.9,128.7 L1294.3,129.2 L1295.7,129.6 L1297.1,130.1 L1298.5,130.6 L1299.9,131 L1301.4,131.5 L1302.8,132 L1304.2,132.6 L1305.6,133.1 L1307,133.7 L1308.4,134.2 L1309.9,134.8 L1311.3,135.4 L1312.7,136 L1314.1,136.6 L1315.5,137.2 L1316.9,137.8 L1318.4,138.5 L1319.8,139.2 L1321.2,139.8 L1322.6,140.5 L1324,141.3 L1325.4,142 L1326.9,142.7 L1328.3,143.5 L1329.7,144.3 L1331.1,145.1 L1332.5,145.9 L1333.9,146.7 L1335.4,147.6 L1336.8,148.5 L1338.2,149.3 L1339.6,150.3 L1341,151.2 L1342.4,152.1 L1343.9,153.1 L1345.3,154.1 L1346.7,155.1 L1348.1,156.2 L1349.5,157.2 L1350.9,158.3 L1352.4,159.4 L1353.8,160.5 L1355.2,161.7 L1356.6,162.9 L1358,164.1 L1359.4,165.3 L1360.9,166.6 L1362.3,167.8 L1363.7,169.1 L1365.1,170.5 L1366.5,171.8 L1367.9,173.2 L1369.4,174.7 L1370.8,176.1 L1372.2,177.6 L1373.6,179.1 L1375,180.7 L1376.4,182.2 L1377.9,183.8 L1379.3,185.5 L1380.7,187.2 L1382.1,188.9 L1383.5,190.6 L1384.9,192.4 L1386.4,194.2 L1387.8,196.1 L1389.2,198 L1390.6,199.9 L1392,201.8 L1393.4,203.8 L1394.9,205.9 L1396.3,208 L1397.7,210.1 L1399.1,212.2 L1400.5,214.4 L1401.9,216.7 L1403.4,219 L1404.8,221.3 L1406.2,223.7 L1407.6,226.1 L1409,228.5 L1410.4,231.1 L1411.9,233.6 L1413.3,236.2 L1414.7,238.8" fill="none" stroke="#FF2600" stroke-width="1.6" stroke-linejoin="round" stroke-linecap="round"/>
<g fill="#FF2600">
<circle cx="1076.1" cy="103.8" r="5.0"/>
<circle cx="1076.1" cy="119.7" r="5.0"/>
<circle cx="1098.5" cy="88.2" r="5.0"/>
<circle cx="1098.5" cy="92.9" r="5.0"/>
<circle cx="1121" cy="90.9" r="5.0"/>
<circle cx="1121" cy="112" r="5.0"/>
<circle cx="1143.8" cy="108" r="5.0"/>
<circle cx="1143.8" cy="115.8" r="5.0"/>
<circle cx="1166.3" cy="107.7" r="5.0"/>
<circle cx="1166.3" cy="117" r="5.0"/>
<circle cx="1188.9" cy="113.5" r="5.0"/>
<circle cx="1188.9" cy="125.6" r="5.0"/>
<circle cx="1211.4" cy="118.4" r="5.0"/>
<circle cx="1211.4" cy="146.5" r="5.0"/>
<circle cx="1234" cy="131" r="5.0"/>
<circle cx="1234" cy="139.2" r="5.0"/>
<circle cx="1256.7" cy="114.3" r="5.0"/>
<circle cx="1256.7" cy="135.5" r="5.0"/>
<circle cx="1279.2" cy="101.6" r="5.0"/>
<circle cx="1279.2" cy="111.7" r="5.0"/>
<circle cx="1301.8" cy="119.9" r="5.0"/>
<circle cx="1301.8" cy="140.3" r="5.0"/>
<circle cx="1324.3" cy="137.4" r="5.0"/>
<circle cx="1324.3" cy="152.4" r="5.0"/>
<circle cx="1346.9" cy="158.2" r="5.0"/>
<circle cx="1346.9" cy="161.5" r="5.0"/>
<circle cx="1369.4" cy="167.4" r="5.0"/>
<circle cx="1369.4" cy="176.7" r="5.0"/>
<circle cx="1414.7" cy="238.7" r="5.0"/>
<circle cx="1414.7" cy="262.2" r="5.0"/>
</g>
<path d="M1076.1,107.3 L1077.5,107.3 L1078.9,107.3 L1080.4,107.3 L1081.8,107.3 L1083.2,107.3 L1084.6,107.3 L1086,107.3 L1087.4,107.3 L1088.9,107.3 L1090.3,107.3 L1091.7,107.3 L1093.1,107.3 L1094.5,107.3 L1095.9,107.3 L1097.4,107.3 L1098.8,107.3 L1100.2,107.3 L1101.6,107.3 L1103,107.3 L1104.4,107.3 L1105.9,107.3 L1107.3,107.3 L1108.7,107.3 L1110.1,107.3 L1111.5,107.3 L1112.9,107.3 L1114.4,107.3 L1115.8,107.3 L1117.2,107.3 L1118.6,107.3 L1120,107.3 L1121.4,107.3 L1122.9,107.3 L1124.3,107.3 L1125.7,107.3 L1127.1,107.3 L1128.5,107.3 L1129.9,107.3 L1131.4,107.3 L1132.8,107.3 L1134.2,107.3 L1135.6,107.3 L1137,107.3 L1138.4,107.3 L1139.9,107.3 L1141.3,107.3 L1142.7,107.3 L1144.1,107.3 L1145.5,107.3 L1146.9,107.3 L1148.4,107.3 L1149.8,107.3 L1151.2,107.3 L1152.6,107.3 L1154,107.3 L1155.4,107.3 L1156.9,107.3 L1158.3,107.3 L1159.7,107.3 L1161.1,107.3 L1162.5,107.3 L1163.9,107.3 L1165.4,107.3 L1166.8,107.3 L1168.2,107.3 L1169.6,107.3 L1171,107.3 L1172.4,107.3 L1173.9,107.3 L1175.3,107.3 L1176.7,107.3 L1178.1,107.3 L1179.5,107.3 L1180.9,107.3 L1182.4,107.3 L1183.8,107.3 L1185.2,107.3 L1186.6,107.3 L1188,107.3 L1189.4,107.3 L1190.9,107.3 L1192.3,107.3 L1193.7,107.3 L1195.1,107.3 L1196.5,107.3 L1197.9,107.3 L1199.4,107.3 L1200.8,107.4 L1202.2,107.4 L1203.6,107.5 L1205,107.6 L1206.4,107.7 L1207.9,107.9 L1209.3,108.2 L1210.7,108.6 L1212.1,109.2 L1213.5,110 L1214.9,111.2 L1216.4,112.8 L1217.8,115.2 L1219.2,118.5 L1220.6,123.1 L1222,129.4 L1223.4,137.6 L1224.9,148.2 L1226.3,161.1 L1227.7,176.2 L1229.1,192.8 L1230.5,209.8 L1231.9,226.2 L1233.4,241 L1234.8,253.6 L1236.2,263.7 L1237.6,271.6 L1239,277.5 L1240.4,281.9 L1241.9,285 L1243.3,287.3 L1244.7,288.8 L1246.1,289.9 L1247.5,290.7 L1248.9,291.3 L1250.4,291.6 L1251.8,291.9 L1253.2,292.1 L1254.6,292.2 L1256,292.3 L1257.4,292.3 L1258.9,292.4 L1260.3,292.4 L1261.7,292.4 L1263.1,292.4 L1264.5,292.5 L1265.9,292.5 L1267.4,292.5 L1268.8,292.5 L1270.2,292.5 L1271.6,292.5 L1273,292.5 L1274.4,292.5 L1275.9,292.5 L1277.3,292.5 L1278.7,292.5 L1280.1,292.5 L1281.5,292.5 L1282.9,292.5 L1284.4,292.5 L1285.8,292.5 L1287.2,292.5 L1288.6,292.5 L1290,292.5 L1291.4,292.5 L1292.9,292.5 L1294.3,292.5 L1295.7,292.5 L1297.1,292.5 L1298.5,292.5 L1299.9,292.5 L1301.4,292.5 L1302.8,292.5 L1304.2,292.5 L1305.6,292.5 L1307,292.5 L1308.4,292.5 L1309.9,292.5 L1311.3,292.5 L1312.7,292.5 L1314.1,292.5 L1315.5,292.5 L1316.9,292.5 L1318.4,292.5 L1319.8,292.5 L1321.2,292.5 L1322.6,292.5 L1324,292.5 L1325.4,292.5 L1326.9,292.5 L1328.3,292.5 L1329.7,292.5 L1331.1,292.5 L1332.5,292.5 L1333.9,292.5 L1335.4,292.5 L1336.8,292.5 L1338.2,292.5 L1339.6,292.5 L1341,292.5 L1342.4,292.5 L1343.9,292.5 L1345.3,292.5 L1346.7,292.5 L1348.1,292.5 L1349.5,292.5 L1350.9,292.5 L1352.4,292.5 L1353.8,292.5 L1355.2,292.5 L1356.6,292.5 L1358,292.5 L1359.4,292.5 L1360.9,292.5 L1362.3,292.5 L1363.7,292.5 L1365.1,292.5 L1366.5,292.5 L1367.9,292.5 L1369.4,292.5 L1370.8,292.5 L1372.2,292.5 L1373.6,292.5 L1375,292.5 L1376.4,292.5 L1377.9,292.5 L1379.3,292.5 L1380.7,292.5 L1382.1,292.5 L1383.5,292.5 L1384.9,292.5 L1386.4,292.5 L1387.8,292.5 L1389.2,292.5 L1390.6,292.5 L1392,292.5 L1393.4,292.5 L1394.9,292.5 L1396.3,292.5 L1397.7,292.5 L1399.1,292.5 L1400.5,292.5 L1401.9,292.5 L1403.4,292.5 L1404.8,292.5 L1406.2,292.5 L1407.6,292.5 L1409,292.5 L1410.4,292.5 L1411.9,292.5 L1413.3,292.5 L1414.7,292.5" fill="none" stroke="#0433FF" stroke-width="1.6" stroke-linejoin="round" stroke-linecap="round"/>
<g fill="#0433FF">
<circle cx="1076.1" cy="79.5" r="5.0"/>
<circle cx="1076.1" cy="116.2" r="5.0"/>
<circle cx="1098.5" cy="99.9" r="5.0"/>
<circle cx="1098.5" cy="108.4" r="5.0"/>
<circle cx="1121" cy="107.1" r="5.0"/>
<circle cx="1121" cy="115.8" r="5.0"/>
<circle cx="1143.8" cy="109.8" r="5.0"/>
<circle cx="1143.8" cy="113.6" r="5.0"/>
<circle cx="1166.3" cy="88" r="5.0"/>
<circle cx="1166.3" cy="116.8" r="5.0"/>
<circle cx="1188.9" cy="101.8" r="5.0"/>
<circle cx="1188.9" cy="119.3" r="5.0"/>
<circle cx="1211.4" cy="64.7" r="5.0"/>
<circle cx="1211.4" cy="150.8" r="5.0"/>
<circle cx="1234" cy="203.7" r="5.0"/>
<circle cx="1234" cy="290.4" r="5.0"/>
<circle cx="1256.7" cy="291.8" r="5.0"/>
<circle cx="1256.7" cy="294.7" r="5.0"/>
<circle cx="1279.2" cy="292" r="5.0"/>
<circle cx="1279.2" cy="294.7" r="5.0"/>
<circle cx="1301.8" cy="291.8" r="5.0"/>
<circle cx="1301.8" cy="295.7" r="5.0"/>
<circle cx="1324.3" cy="289.9" r="5.0"/>
<circle cx="1324.3" cy="293.2" r="5.0"/>
<circle cx="1346.9" cy="290.4" r="5.0"/>
<circle cx="1346.9" cy="292" r="5.0"/>
<circle cx="1369.4" cy="287.5" r="5.0"/>
<circle cx="1369.4" cy="292.8" r="5.0"/>
<circle cx="1392" cy="285.6" r="5.0"/>
<circle cx="1392" cy="295.3" r="5.0"/>
<circle cx="1414.7" cy="294.7" r="5.0"/>
<circle cx="1414.7" cy="300.9" r="5.0"/>
</g>
<g stroke="#000" stroke-width="2.9" fill="none" stroke-linecap="butt">
<path d="M1062.1,56.5 V317.1"/>
<path d="M1051.5,306 H1439"/>
<path d="M1137.2,306 V317.1"/>
<path d="M1212.3,306 V317.1"/>
<path d="M1287.3,306 V317.1"/>
<path d="M1362.4,306 V317.1"/>
<path d="M1437.5,306 V317.1"/>
<path d="M1051.5,213.4 H1062.1"/>
<path d="M1051.5,120.8 H1062.1"/>
</g>
<g font-size="20" font-weight="700">
<text x="1061.5" y="337.7" text-anchor="middle">0.001</text>
<text x="1136.6" y="337.7" text-anchor="middle">0.01</text>
<text x="1211.7" y="337.7" text-anchor="middle">0.1</text>
<text x="1286.7" y="337.7" text-anchor="middle">1</text>
<text x="1361.8" y="337.7" text-anchor="middle">10</text>
<text x="1436.9" y="337.7" text-anchor="middle">100</text>
<text x="1048" y="313.7" text-anchor="end">0</text>
<text x="1048" y="221.1" text-anchor="end">50</text>
<text x="1048" y="128.5" text-anchor="end">100</text>
</g>
<path d="M1065.4,230 H1090.1" stroke="#FF9300" stroke-width="1.6"/>
<circle cx="1077.8" cy="230" r="5" fill="#FF9300"/>
<text x="1103.3" y="235.6" font-size="18.3">WT</text>
<path d="M1065.4,261.3 H1090.1" stroke="#0433FF" stroke-width="1.6"/>
<circle cx="1077.8" cy="261.3" r="5" fill="#0433FF"/>
<text x="1103.3" y="266.9" font-size="18.3">sgScramble</text>
<path d="M1065.4,292.2 H1090.1" stroke="#FF2600" stroke-width="1.6"/>
<circle cx="1077.8" cy="292.2" r="5" fill="#FF2600"/>
<text x="1103.3" y="298" font-size="18.3">sgTRIM21</text>
<text x="1250.3" y="367.4" font-size="20" font-weight="700" text-anchor="middle" textLength="167" lengthAdjust="spacingAndGlyphs">BMS-214662 (µM)</text>
<text x="978" y="182.2" font-size="20" font-weight="700" text-anchor="middle" textLength="76.2" lengthAdjust="spacingAndGlyphs" transform="rotate(-90 978 182.2)">Viability</text>
<text x="1002.1" y="183.5" font-size="18.3" font-weight="700" text-anchor="middle" textLength="163.2" lengthAdjust="spacingAndGlyphs" transform="rotate(-90 1002.1 183.5)">(% rel. to DMSO)</text>
<text x="960.2" y="46.9" font-size="38.9" font-weight="700">e</text>
<path d="M1072.8,564.4 L1074.2,564.4 L1075.6,564.4 L1077.1,564.4 L1078.5,564.4 L1079.9,564.4 L1081.3,564.4 L1082.7,564.4 L1084.1,564.4 L1085.6,564.4 L1087,564.4 L1088.4,564.4 L1089.8,564.5 L1091.2,564.5 L1092.6,564.5 L1094.1,564.5 L1095.5,564.5 L1096.9,564.5 L1098.3,564.5 L1099.7,564.5 L1101.2,564.5 L1102.6,564.5 L1104,564.5 L1105.4,564.6 L1106.8,564.6 L1108.2,564.6 L1109.7,564.6 L1111.1,564.6 L1112.5,564.6 L1113.9,564.6 L1115.3,564.6 L1116.7,564.7 L1118.2,564.7 L1119.6,564.7 L1121,564.7 L1122.4,564.7 L1123.8,564.7 L1125.3,564.7 L1126.7,564.8 L1128.1,564.8 L1129.5,564.8 L1130.9,564.8 L1132.3,564.8 L1133.8,564.9 L1135.2,564.9 L1136.6,564.9 L1138,564.9 L1139.4,564.9 L1140.8,565 L1142.3,565 L1143.7,565 L1145.1,565 L1146.5,565.1 L1147.9,565.1 L1149.3,565.1 L1150.8,565.1 L1152.2,565.2 L1153.6,565.2 L1155,565.2 L1156.4,565.2 L1157.9,565.3 L1159.3,565.3 L1160.7,565.3 L1162.1,565.4 L1163.5,565.4 L1164.9,565.4 L1166.4,565.5 L1167.8,565.5 L1169.2,565.6 L1170.6,565.6 L1172,565.6 L1173.4,565.7 L1174.9,565.7 L1176.3,565.8 L1177.7,565.8 L1179.1,565.9 L1180.5,565.9 L1182,566 L1183.4,566 L1184.8,566.1 L1186.2,566.1 L1187.6,566.2 L1189,566.2 L1190.5,566.3 L1191.9,566.3 L1193.3,566.4 L1194.7,566.5 L1196.1,566.5 L1197.5,566.6 L1199,566.7 L1200.4,566.7 L1201.8,566.8 L1203.2,566.9 L1204.6,566.9 L1206.1,567 L1207.5,567.1 L1208.9,567.2 L1210.3,567.3 L1211.7,567.4 L1213.1,567.4 L1214.6,567.5 L1216,567.6 L1217.4,567.7 L1218.8,567.8 L1220.2,567.9 L1221.6,568 L1223.1,568.1 L1224.5,568.3 L1225.9,568.4 L1227.3,568.5 L1228.7,568.6 L1230.2,568.7 L1231.6,568.9 L1233,569 L1234.4,569.1 L1235.8,569.3 L1237.2,569.4 L1238.7,569.5 L1240.1,569.7 L1241.5,569.9 L1242.9,570 L1244.3,570.2 L1245.7,570.3 L1247.2,570.5 L1248.6,570.7 L1250,570.9 L1251.4,571.1 L1252.8,571.2 L1254.2,571.4 L1255.7,571.6 L1257.1,571.9 L1258.5,572.1 L1259.9,572.3 L1261.3,572.5 L1262.8,572.8 L1264.2,573 L1265.6,573.2 L1267,573.5 L1268.4,573.7 L1269.8,574 L1271.3,574.3 L1272.7,574.6 L1274.1,574.9 L1275.5,575.2 L1276.9,575.5 L1278.3,575.8 L1279.8,576.1 L1281.2,576.4 L1282.6,576.8 L1284,577.1 L1285.4,577.5 L1286.9,577.9 L1288.3,578.2 L1289.7,578.6 L1291.1,579 L1292.5,579.4 L1293.9,579.9 L1295.4,580.3 L1296.8,580.8 L1298.2,581.2 L1299.6,581.7 L1301,582.2 L1302.4,582.7 L1303.9,583.2 L1305.3,583.7 L1306.7,584.3 L1308.1,584.8 L1309.5,585.4 L1311,586 L1312.4,586.6 L1313.8,587.2 L1315.2,587.9 L1316.6,588.5 L1318,589.2 L1319.5,589.9 L1320.9,590.6 L1322.3,591.3 L1323.7,592.1 L1325.1,592.9 L1326.5,593.7 L1328,594.5 L1329.4,595.3 L1330.8,596.2 L1332.2,597.1 L1333.6,598 L1335.1,598.9 L1336.5,599.9 L1337.9,600.9 L1339.3,601.9 L1340.7,603 L1342.1,604.1 L1343.6,605.2 L1345,606.3 L1346.4,607.5 L1347.8,608.7 L1349.2,609.9 L1350.6,611.2 L1352.1,612.5 L1353.5,613.8 L1354.9,615.2 L1356.3,616.6 L1357.7,618.1 L1359.1,619.6 L1360.6,621.1 L1362,622.7 L1363.4,624.3 L1364.8,626 L1366.2,627.7 L1367.7,629.5 L1369.1,631.3 L1370.5,633.2 L1371.9,635.1 L1373.3,637.1 L1374.7,639.1 L1376.2,641.2 L1377.6,643.3 L1379,645.5 L1380.4,647.8 L1381.8,650.1 L1383.2,652.5 L1384.7,654.9 L1386.1,657.5 L1387.5,660.1 L1388.9,662.7 L1390.3,665.5 L1391.8,668.3 L1393.2,671.2 L1394.6,674.1 L1396,677.2 L1397.4,680.3 L1398.8,683.6 L1400.3,686.9 L1401.7,690.3 L1403.1,693.8 L1404.5,697.4 L1405.9,701.1 L1407.3,704.9 L1408.8,708.8 L1410.2,712.8 L1411.6,716.9" fill="none" stroke="#FF2600" stroke-width="1.6" stroke-linejoin="round" stroke-linecap="round"/>
<g fill="#FF2600">
<circle cx="1072.8" cy="529.1" r="5.0"/>
<circle cx="1072.8" cy="568.7" r="5.0"/>
<circle cx="1095.2" cy="560.4" r="5.0"/>
<circle cx="1095.2" cy="569.7" r="5.0"/>
<circle cx="1117.7" cy="546.8" r="5.0"/>
<circle cx="1117.7" cy="570.7" r="5.0"/>
<circle cx="1140.3" cy="548.9" r="5.0"/>
<circle cx="1140.3" cy="581.8" r="5.0"/>
<circle cx="1162.8" cy="571.3" r="5.0"/>
<circle cx="1162.8" cy="575.6" r="5.0"/>
<circle cx="1185.4" cy="568.7" r="5.0"/>
<circle cx="1207.9" cy="564.5" r="5.0"/>
<circle cx="1207.9" cy="577.9" r="5.0"/>
<circle cx="1230.7" cy="578" r="5.0"/>
<circle cx="1230.7" cy="580.3" r="5.0"/>
<circle cx="1253.5" cy="534.9" r="5.0"/>
<circle cx="1253.5" cy="571.7" r="5.0"/>
<circle cx="1276.1" cy="570.3" r="5.0"/>
<circle cx="1276.1" cy="586.8" r="5.0"/>
<circle cx="1298.5" cy="585.3" r="5.0"/>
<circle cx="1298.5" cy="595.4" r="5.0"/>
<circle cx="1321" cy="596.2" r="5.0"/>
<circle cx="1343.8" cy="591.7" r="5.0"/>
<circle cx="1343.8" cy="612.9" r="5.0"/>
<circle cx="1366.1" cy="620.7" r="5.0"/>
<circle cx="1366.1" cy="636.6" r="5.0"/>
<circle cx="1388.9" cy="655.6" r="5.0"/>
<circle cx="1388.9" cy="657" r="5.0"/>
<circle cx="1411.6" cy="718.7" r="5.0"/>
</g>
<path d="M1072.8,588.6 L1074.2,588.6 L1075.6,588.6 L1077.1,588.6 L1078.5,588.6 L1079.9,588.6 L1081.3,588.6 L1082.7,588.6 L1084.1,588.6 L1085.6,588.6 L1087,588.6 L1088.4,588.6 L1089.8,588.6 L1091.2,588.6 L1092.6,588.6 L1094.1,588.6 L1095.5,588.6 L1096.9,588.6 L1098.3,588.6 L1099.7,588.6 L1101.2,588.6 L1102.6,588.6 L1104,588.6 L1105.4,588.6 L1106.8,588.6 L1108.2,588.6 L1109.7,588.6 L1111.1,588.6 L1112.5,588.6 L1113.9,588.6 L1115.3,588.6 L1116.7,588.6 L1118.2,588.6 L1119.6,588.6 L1121,588.6 L1122.4,588.6 L1123.8,588.6 L1125.3,588.6 L1126.7,588.6 L1128.1,588.6 L1129.5,588.6 L1130.9,588.6 L1132.3,588.6 L1133.8,588.6 L1135.2,588.6 L1136.6,588.6 L1138,588.6 L1139.4,588.6 L1140.8,588.6 L1142.3,588.6 L1143.7,588.6 L1145.1,588.6 L1146.5,588.6 L1147.9,588.7 L1149.3,588.7 L1150.8,588.7 L1152.2,588.7 L1153.6,588.7 L1155,588.7 L1156.4,588.7 L1157.9,588.8 L1159.3,588.8 L1160.7,588.8 L1162.1,588.9 L1163.5,588.9 L1164.9,589 L1166.4,589 L1167.8,589.1 L1169.2,589.3 L1170.6,589.4 L1172,589.5 L1173.4,589.7 L1174.9,590 L1176.3,590.3 L1177.7,590.6 L1179.1,591 L1180.5,591.5 L1182,592.2 L1183.4,592.9 L1184.8,593.8 L1186.2,594.8 L1187.6,596.1 L1189,597.5 L1190.5,599.3 L1191.9,601.4 L1193.3,603.8 L1194.7,606.6 L1196.1,609.9 L1197.5,613.6 L1199,617.8 L1200.4,622.5 L1201.8,627.7 L1203.2,633.4 L1204.6,639.5 L1206.1,646 L1207.5,652.6 L1208.9,659.4 L1210.3,666.2 L1211.7,672.8 L1213.1,679.2 L1214.6,685.3 L1216,690.9 L1217.4,696 L1218.8,700.7 L1220.2,704.9 L1221.6,708.5 L1223.1,711.7 L1224.5,714.5 L1225.9,716.9 L1227.3,718.9 L1228.7,720.6 L1230.2,722.1 L1231.6,723.3 L1233,724.3 L1234.4,725.2 L1235.8,725.9 L1237.2,726.5 L1238.7,727 L1240.1,727.4 L1241.5,727.8 L1242.9,728 L1244.3,728.3 L1245.7,728.5 L1247.2,728.6 L1248.6,728.8 L1250,728.9 L1251.4,729 L1252.8,729 L1254.2,729.1 L1255.7,729.1 L1257.1,729.2 L1258.5,729.2 L1259.9,729.2 L1261.3,729.3 L1262.8,729.3 L1264.2,729.3 L1265.6,729.3 L1267,729.3 L1268.4,729.3 L1269.8,729.3 L1271.3,729.3 L1272.7,729.4 L1274.1,729.4 L1275.5,729.4 L1276.9,729.4 L1278.3,729.4 L1279.8,729.4 L1281.2,729.4 L1282.6,729.4 L1284,729.4 L1285.4,729.4 L1286.9,729.4 L1288.3,729.4 L1289.7,729.4 L1291.1,729.4 L1292.5,729.4 L1293.9,729.4 L1295.4,729.4 L1296.8,729.4 L1298.2,729.4 L1299.6,729.4 L1301,729.4 L1302.4,729.4 L1303.9,729.4 L1305.3,729.4 L1306.7,729.4 L1308.1,729.4 L1309.5,729.4 L1311,729.4 L1312.4,729.4 L1313.8,729.4 L1315.2,729.4 L1316.6,729.4 L1318,729.4 L1319.5,729.4 L1320.9,729.4 L1322.3,729.4 L1323.7,729.4 L1325.1,729.4 L1326.5,729.4 L1328,729.4 L1329.4,729.4 L1330.8,729.4 L1332.2,729.4 L1333.6,729.4 L1335.1,729.4 L1336.5,729.4 L1337.9,729.4 L1339.3,729.4 L1340.7,729.4 L1342.1,729.4 L1343.6,729.4 L1345,729.4 L1346.4,729.4 L1347.8,729.4 L1349.2,729.4 L1350.6,729.4 L1352.1,729.4 L1353.5,729.4 L1354.9,729.4 L1356.3,729.4 L1357.7,729.4 L1359.1,729.4 L1360.6,729.4 L1362,729.4 L1363.4,729.4 L1364.8,729.4 L1366.2,729.4 L1367.7,729.4 L1369.1,729.4 L1370.5,729.4 L1371.9,729.4 L1373.3,729.4 L1374.7,729.4 L1376.2,729.4 L1377.6,729.4 L1379,729.4 L1380.4,729.4 L1381.8,729.4 L1383.2,729.4 L1384.7,729.4 L1386.1,729.4 L1387.5,729.4 L1388.9,729.4 L1390.3,729.4 L1391.8,729.4 L1393.2,729.4 L1394.6,729.4 L1396,729.4 L1397.4,729.4 L1398.8,729.4 L1400.3,729.4 L1401.7,729.4 L1403.1,729.4 L1404.5,729.4 L1405.9,729.4 L1407.3,729.4 L1408.8,729.4 L1410.2,729.4 L1411.6,729.4" fill="none" stroke="#0433FF" stroke-width="1.6" stroke-linejoin="round" stroke-linecap="round"/>
<g fill="#0433FF">
<circle cx="1072.8" cy="565.4" r="5.0"/>
<circle cx="1072.8" cy="607.6" r="5.0"/>
<circle cx="1095.2" cy="575" r="5.0"/>
<circle cx="1095.2" cy="595.4" r="5.0"/>
<circle cx="1117.7" cy="558.4" r="5.0"/>
<circle cx="1117.7" cy="600.2" r="5.0"/>
<circle cx="1140.3" cy="573.2" r="5.0"/>
<circle cx="1140.3" cy="608.6" r="5.0"/>
<circle cx="1162.8" cy="589.6" r="5.0"/>
<circle cx="1162.8" cy="606.3" r="5.0"/>
<circle cx="1185.4" cy="582" r="5.0"/>
<circle cx="1185.4" cy="617.4" r="5.0"/>
<circle cx="1207.9" cy="642.5" r="5.0"/>
<circle cx="1207.9" cy="666.6" r="5.0"/>
<circle cx="1230.7" cy="723.2" r="5.0"/>
<circle cx="1230.7" cy="731" r="5.0"/>
<circle cx="1253.5" cy="726.5" r="5.0"/>
<circle cx="1253.5" cy="728.5" r="5.0"/>
<circle cx="1276.1" cy="721.3" r="5.0"/>
<circle cx="1276.1" cy="728.9" r="5.0"/>
<circle cx="1298.5" cy="725.5" r="5.0"/>
<circle cx="1298.5" cy="727" r="5.0"/>
<circle cx="1321" cy="724" r="5.0"/>
<circle cx="1321" cy="725.5" r="5.0"/>
<circle cx="1343.8" cy="725" r="5.0"/>
<circle cx="1343.8" cy="728.5" r="5.0"/>
<circle cx="1366.1" cy="728.9" r="5.0"/>
<circle cx="1388.9" cy="730.4" r="5.0"/>
<circle cx="1411.6" cy="740.7" r="5.0"/>
</g>
<g stroke="#000" stroke-width="2.9" fill="none" stroke-linecap="butt">
<path d="M1058.6,503.2 V764"/>
<path d="M1048,752.8 H1436"/>
<path d="M1133.8,752.8 V764"/>
<path d="M1209,752.8 V764"/>
<path d="M1284.2,752.8 V764"/>
<path d="M1359.4,752.8 V764"/>
<path d="M1434.6,752.8 V764"/>
<path d="M1048,639.1 H1058.6"/>
<path d="M1048,525.4 H1058.6"/>
</g>
<g font-size="20" font-weight="700">
<text x="1058" y="785.1" text-anchor="middle">0.001</text>
<text x="1133.2" y="785.1" text-anchor="middle">0.01</text>
<text x="1208.4" y="785.1" text-anchor="middle">0.1</text>
<text x="1283.6" y="785.1" text-anchor="middle">1</text>
<text x="1358.8" y="785.1" text-anchor="middle">10</text>
<text x="1434" y="785.1" text-anchor="middle">100</text>
<text x="1045.3" y="760.5" text-anchor="end">0</text>
<text x="1045.3" y="646.8" text-anchor="end">50</text>
<text x="1045.3" y="533.1" text-anchor="end">100</text>
</g>
<path d="M1063.5,704.2 H1088.7" stroke="#0433FF" stroke-width="1.6"/>
<circle cx="1076.1" cy="704.2" r="5" fill="#0433FF"/>
<text x="1101.4" y="709.6" font-size="18.3">sgScramble</text>
<path d="M1063.5,738.6 H1088.7" stroke="#FF2600" stroke-width="1.6"/>
<circle cx="1076.1" cy="738.6" r="5" fill="#FF2600"/>
<text x="1101.4" y="744.4" font-size="18.3">sgTRIM21</text>
<text x="1246.7" y="815.3" font-size="20" font-weight="700" text-anchor="middle" textLength="167.3" lengthAdjust="spacingAndGlyphs">BMS-214662 (µM)</text>
<text x="975" y="628.3" font-size="20" font-weight="700" text-anchor="middle" textLength="76.2" lengthAdjust="spacingAndGlyphs" transform="rotate(-90 975 628.3)">Viability</text>
<text x="999" y="630.5" font-size="18.3" font-weight="700" text-anchor="middle" textLength="163.2" lengthAdjust="spacingAndGlyphs" transform="rotate(-90 999 630.5)">(% rel. to DMSO)</text>
<text x="959.8" y="501.8" font-size="38.2" font-weight="700">f</text>
<path d="M1657.1,95 L1658.4,95 L1659.6,95 L1660.9,95 L1662.1,95 L1663.4,95 L1664.7,95 L1665.9,95 L1667.2,95.1 L1668.4,95.1 L1669.7,95.1 L1670.9,95.1 L1672.2,95.1 L1673.5,95.1 L1674.7,95.1 L1676,95.2 L1677.2,95.2 L1678.5,95.2 L1679.8,95.2 L1681,95.2 L1682.3,95.2 L1683.5,95.3 L1684.8,95.3 L1686.1,95.3 L1687.3,95.3 L1688.6,95.3 L1689.8,95.3 L1691.1,95.4 L1692.3,95.4 L1693.6,95.4 L1694.9,95.4 L1696.1,95.5 L1697.4,95.5 L1698.6,95.5 L1699.9,95.5 L1701.2,95.5 L1702.4,95.6 L1703.7,95.6 L1704.9,95.6 L1706.2,95.6 L1707.5,95.7 L1708.7,95.7 L1710,95.7 L1711.2,95.8 L1712.5,95.8 L1713.7,95.8 L1715,95.9 L1716.3,95.9 L1717.5,95.9 L1718.8,96 L1720,96 L1721.3,96.1 L1722.6,96.1 L1723.8,96.2 L1725.1,96.2 L1726.3,96.3 L1727.6,96.3 L1728.9,96.4 L1730.1,96.5 L1731.4,96.6 L1732.6,96.6 L1733.9,96.8 L1735.1,96.9 L1736.4,97 L1737.7,97.2 L1738.9,97.3 L1740.2,97.5 L1741.4,97.7 L1742.7,97.9 L1744,98.1 L1745.2,98.3 L1746.5,98.5 L1747.7,98.8 L1749,99 L1750.3,99.2 L1751.5,99.5 L1752.8,99.8 L1754,100.1 L1755.3,100.3 L1756.5,100.6 L1757.8,100.9 L1759.1,101.2 L1760.3,101.6 L1761.6,101.9 L1762.8,102.2 L1764.1,102.5 L1765.4,102.9 L1766.6,103.2 L1767.9,103.6 L1769.1,104.1 L1770.4,104.5 L1771.7,105 L1772.9,105.6 L1774.2,106.1 L1775.4,106.7 L1776.7,107.3 L1777.9,107.9 L1779.2,108.6 L1780.5,109.3 L1781.7,110 L1783,110.7 L1784.2,111.5 L1785.5,112.3 L1786.8,113.1 L1788,113.9 L1789.3,114.8 L1790.5,115.8 L1791.8,116.9 L1793,118.1 L1794.3,119.4 L1795.6,120.7 L1796.8,122.1 L1798.1,123.5 L1799.3,125 L1800.6,126.6 L1801.9,128.3 L1803.1,130.1 L1804.4,132 L1805.6,134 L1806.9,136.3 L1808.2,138.7 L1809.4,141.4 L1810.7,144.4 L1811.9,147.6 L1813.2,151 L1814.4,154.5 L1815.7,158.2 L1817,162 L1818.2,165.8 L1819.5,169.6 L1820.7,173.4 L1822,177.1 L1823.3,180.7 L1824.5,184.3 L1825.8,188 L1827,191.6 L1828.3,195.4 L1829.6,199.2 L1830.8,203.2 L1832.1,207.3 L1833.3,211.6 L1834.6,215.9 L1835.8,220.2 L1837.1,224.6 L1838.4,229.2 L1839.6,233.9 L1840.9,238.7 L1842.1,243.5 L1843.4,248.1 L1844.7,252.5 L1845.9,256.6 L1847.2,260.5 L1848.4,264.3 L1849.7,268 L1851,271.5 L1852.2,274.9 L1853.5,278 L1854.7,280.7 L1856,283 L1857.2,285 L1858.5,287 L1859.8,288.8 L1861,290.5 L1862.3,291.9 L1863.5,293.2 L1864.8,294.1 L1866.1,294.8 L1867.3,295.3 L1868.6,295.8 L1869.8,296.1 L1871.1,296.4 L1872.4,296.5 L1873.6,296.6 L1874.9,296.7 L1876.1,296.8 L1877.4,296.8 L1878.6,296.9 L1879.9,296.9 L1881.2,297 L1882.4,297 L1883.7,297 L1884.9,297 L1886.2,297 L1887.5,297 L1888.7,297 L1890,297 L1891.2,297 L1892.5,297 L1893.8,297 L1895,297 L1896.3,297 L1897.5,297 L1898.8,297 L1900,297 L1901.3,297 L1902.6,297 L1903.8,297 L1905.1,297 L1906.3,297 L1907.6,297" fill="none" stroke="#FF2600" stroke-width="1.6" stroke-linejoin="round" stroke-linecap="round"/>
<g fill="#FF2600">
<circle cx="1657.1" cy="95" r="5.0"/>
<circle cx="1657.1" cy="149.5" r="5.0"/>
<circle cx="1693.1" cy="62.4" r="5.0"/>
<circle cx="1693.1" cy="83.2" r="5.0"/>
<circle cx="1728.8" cy="72.1" r="5.0"/>
<circle cx="1728.8" cy="94.6" r="5.0"/>
<circle cx="1764.4" cy="98.1" r="5.0"/>
<circle cx="1764.4" cy="125" r="5.0"/>
<circle cx="1800" cy="117.2" r="5.0"/>
<circle cx="1800" cy="134.3" r="5.0"/>
<circle cx="1836" cy="215" r="5.0"/>
<circle cx="1836" cy="236" r="5.0"/>
<circle cx="1872" cy="293.7" r="5.0"/>
<circle cx="1872" cy="296" r="5.0"/>
<circle cx="1907.6" cy="297" r="5.0"/>
<circle cx="1907.6" cy="298" r="5.0"/>
</g>
<path d="M1657.1,125.9 L1658.4,125.9 L1659.6,125.9 L1660.9,126 L1662.1,126 L1663.4,126 L1664.7,126 L1665.9,126.1 L1667.2,126.1 L1668.4,126.1 L1669.7,126.1 L1670.9,126.2 L1672.2,126.2 L1673.5,126.2 L1674.7,126.3 L1676,126.3 L1677.2,126.3 L1678.5,126.4 L1679.8,126.4 L1681,126.4 L1682.3,126.5 L1683.5,126.5 L1684.8,126.5 L1686.1,126.6 L1687.3,126.6 L1688.6,126.7 L1689.8,126.7 L1691.1,126.7 L1692.3,126.8 L1693.6,126.8 L1694.9,126.9 L1696.1,126.9 L1697.4,126.9 L1698.6,127 L1699.9,127 L1701.2,127.1 L1702.4,127.1 L1703.7,127.2 L1704.9,127.2 L1706.2,127.3 L1707.5,127.3 L1708.7,127.4 L1710,127.5 L1711.2,127.5 L1712.5,127.6 L1713.7,127.6 L1715,127.7 L1716.3,127.8 L1717.5,127.8 L1718.8,127.9 L1720,128 L1721.3,128 L1722.6,128.1 L1723.8,128.2 L1725.1,128.3 L1726.3,128.3 L1727.6,128.4 L1728.9,128.5 L1730.1,128.6 L1731.4,128.7 L1732.6,128.8 L1733.9,128.9 L1735.1,128.9 L1736.4,129 L1737.7,129.1 L1738.9,129.2 L1740.2,129.4 L1741.4,129.5 L1742.7,129.6 L1744,129.7 L1745.2,129.8 L1746.5,130 L1747.7,130.1 L1749,130.2 L1750.3,130.4 L1751.5,130.5 L1752.8,130.7 L1754,130.8 L1755.3,131 L1756.5,131.2 L1757.8,131.3 L1759.1,131.5 L1760.3,131.7 L1761.6,131.9 L1762.8,132.1 L1764.1,132.3 L1765.4,132.6 L1766.6,132.8 L1767.9,133.1 L1769.1,133.4 L1770.4,133.8 L1771.7,134.1 L1772.9,134.5 L1774.2,134.9 L1775.4,135.4 L1776.7,135.9 L1777.9,136.4 L1779.2,136.9 L1780.5,137.4 L1781.7,138 L1783,138.6 L1784.2,139.2 L1785.5,139.8 L1786.8,140.4 L1788,141.1 L1789.3,141.8 L1790.5,142.6 L1791.8,143.6 L1793,144.5 L1794.3,145.6 L1795.6,146.8 L1796.8,148 L1798.1,149.4 L1799.3,150.8 L1800.6,152.5 L1801.9,154.5 L1803.1,156.7 L1804.4,159 L1805.6,161.3 L1806.9,163.6 L1808.2,165.6 L1809.4,167.6 L1810.7,169.6 L1811.9,171.5 L1813.2,173.5 L1814.4,175.5 L1815.7,177.5 L1817,179.6 L1818.2,181.8 L1819.5,183.9 L1820.7,186.1 L1822,188.3 L1823.3,190.6 L1824.5,192.9 L1825.8,195.4 L1827,198.1 L1828.3,200.9 L1829.6,204 L1830.8,207.3 L1832.1,210.9 L1833.3,214.6 L1834.6,218.4 L1835.8,222.3 L1837.1,226.3 L1838.4,230.7 L1839.6,235.3 L1840.9,240.1 L1842.1,244.9 L1843.4,249.7 L1844.7,254.3 L1845.9,258.5 L1847.2,262.4 L1848.4,266.3 L1849.7,270.2 L1851,273.9 L1852.2,277.4 L1853.5,280.7 L1854.7,283.5 L1856,286 L1857.2,288.2 L1858.5,290.2 L1859.8,292.2 L1861,294 L1862.3,295.6 L1863.5,297 L1864.8,298 L1866.1,298.7 L1867.3,299.3 L1868.6,299.8 L1869.8,300.1 L1871.1,300.4 L1872.4,300.5 L1873.6,300.6 L1874.9,300.7 L1876.1,300.7 L1877.4,300.8 L1878.6,300.8 L1879.9,300.8 L1881.2,300.9 L1882.4,300.9 L1883.7,300.9 L1884.9,300.9 L1886.2,300.9 L1887.5,300.9 L1888.7,300.9 L1890,300.9 L1891.2,300.9 L1892.5,300.9 L1893.8,300.9 L1895,300.9 L1896.3,300.9 L1897.5,300.9 L1898.8,300.9 L1900,300.9 L1901.3,300.9 L1902.6,300.9 L1903.8,300.9 L1905.1,300.9 L1906.3,300.9 L1907.6,300.9" fill="none" stroke="#0433FF" stroke-width="1.6" stroke-linejoin="round" stroke-linecap="round"/>
<g fill="#0433FF">
<circle cx="1657.1" cy="145" r="5.0"/>
<circle cx="1657.1" cy="160" r="5.0"/>
<circle cx="1693.1" cy="100.9" r="5.0"/>
<circle cx="1693.1" cy="118.2" r="5.0"/>
<circle cx="1728.8" cy="118.7" r="5.0"/>
<circle cx="1728.8" cy="121.3" r="5.0"/>
<circle cx="1764.4" cy="121.7" r="5.0"/>
<circle cx="1764.4" cy="138.2" r="5.0"/>
<circle cx="1800" cy="130.2" r="5.0"/>
<circle cx="1800" cy="176.1" r="5.0"/>
<circle cx="1836" cy="212.7" r="5.0"/>
<circle cx="1836" cy="242.6" r="5.0"/>
<circle cx="1872" cy="298.2" r="5.0"/>
<circle cx="1872" cy="301.5" r="5.0"/>
<circle cx="1907.6" cy="299.6" r="5.0"/>
<circle cx="1907.6" cy="302.5" r="5.0"/>
</g>
<g stroke="#000" stroke-width="2.9" fill="none" stroke-linecap="butt">
<path d="M1607.5,57.1 V317.5"/>
<path d="M1596.9,306.4 H1984.4"/>
<path d="M1682.6,306.4 V317.5"/>
<path d="M1757.7,306.4 V317.5"/>
<path d="M1832.7,306.4 V317.5"/>
<path d="M1907.8,306.4 V317.5"/>
<path d="M1982.9,306.4 V317.5"/>
<path d="M1596.9,216.9 H1607.5"/>
<path d="M1596.9,127.5 H1607.5"/>
</g>
<g font-size="20" font-weight="700">
<text x="1606.9" y="337.7" text-anchor="middle">0.001</text>
<text x="1682" y="337.7" text-anchor="middle">0.01</text>
<text x="1757.1" y="337.7" text-anchor="middle">0.1</text>
<text x="1832.1" y="337.7" text-anchor="middle">1</text>
<text x="1907.2" y="337.7" text-anchor="middle">10</text>
<text x="1982.3" y="337.7" text-anchor="middle">100</text>
<text x="1593.8" y="314.1" text-anchor="end">0</text>
<text x="1593.8" y="224.6" text-anchor="end">50</text>
<text x="1593.8" y="135.2" text-anchor="end">100</text>
</g>
<path d="M1611.4,262.2 H1636.1" stroke="#0433FF" stroke-width="1.6"/>
<circle cx="1623.8" cy="262.2" r="5" fill="#0433FF"/>
<text x="1649.3" y="267.7" font-size="18.3">sgScramble</text>
<path d="M1611.4,292.8 H1636.1" stroke="#FF2600" stroke-width="1.6"/>
<circle cx="1623.8" cy="292.8" r="5" fill="#FF2600"/>
<text x="1649.3" y="298.4" font-size="18.3">sgTRIM21</text>
<text x="1795" y="367.5" font-size="20" font-weight="700" text-anchor="middle" textLength="116.3" lengthAdjust="spacingAndGlyphs">Erastin (µM)</text>
<text x="1520.6" y="183" font-size="20" font-weight="700" text-anchor="middle" textLength="76.2" lengthAdjust="spacingAndGlyphs" transform="rotate(-90 1520.6 183)">Viability</text>
<text x="1545.4" y="182" font-size="18.3" font-weight="700" text-anchor="middle" textLength="163.2" lengthAdjust="spacingAndGlyphs" transform="rotate(-90 1545.4 182)">(% rel. to DMSO)</text>
<text x="1507.5" y="47.3" font-size="38" font-weight="700">g</text>
<path d="M1656.7,564.2 L1657.7,564.4 L1658.8,564.5 L1659.8,564.7 L1660.9,564.8 L1661.9,565 L1663,565.2 L1664,565.3 L1665.1,565.5 L1666.1,565.7 L1667.2,565.9 L1668.2,566.1 L1669.3,566.2 L1670.3,566.4 L1671.4,566.6 L1672.4,566.8 L1673.5,567 L1674.5,567.3 L1675.6,567.5 L1676.6,567.7 L1677.7,567.9 L1678.7,568.1 L1679.8,568.4 L1680.8,568.6 L1681.9,568.9 L1682.9,569.1 L1684,569.4 L1685,569.6 L1686,569.9 L1687.1,570.2 L1688.1,570.5 L1689.2,570.8 L1690.2,571.1 L1691.3,571.4 L1692.3,571.7 L1693.4,572 L1694.4,572.3 L1695.5,572.6 L1696.5,573 L1697.6,573.3 L1698.6,573.6 L1699.7,574 L1700.7,574.4 L1701.8,574.7 L1702.8,575.1 L1703.9,575.5 L1704.9,575.9 L1706,576.3 L1707,576.7 L1708.1,577.1 L1709.1,577.5 L1710.2,578 L1711.2,578.4 L1712.3,578.9 L1713.3,579.3 L1714.3,579.8 L1715.4,580.3 L1716.4,580.8 L1717.5,581.3 L1718.5,581.8 L1719.6,582.3 L1720.6,582.8 L1721.7,583.4 L1722.7,583.9 L1723.8,584.5 L1724.8,585 L1725.9,585.6 L1726.9,586.2 L1728,586.8 L1729,587.4 L1730.1,588 L1731.1,588.6 L1732.2,589.3 L1733.2,589.9 L1734.3,590.6 L1735.3,591.2 L1736.4,591.9 L1737.4,592.6 L1738.5,593.3 L1739.5,594 L1740.5,594.8 L1741.6,595.5 L1742.6,596.3 L1743.7,597 L1744.7,597.8 L1745.8,598.6 L1746.8,599.4 L1747.9,600.2 L1748.9,601 L1750,601.8 L1751,602.7 L1752.1,603.5 L1753.1,604.4 L1754.2,605.2 L1755.2,606.1 L1756.3,607 L1757.3,607.9 L1758.4,608.8 L1759.4,609.8 L1760.5,610.7 L1761.5,611.7 L1762.6,612.6 L1763.6,613.6 L1764.7,614.6 L1765.7,615.6 L1766.8,616.6 L1767.8,617.6 L1768.8,618.6 L1769.9,619.6 L1770.9,620.7 L1772,621.7 L1773,622.8 L1774.1,623.8 L1775.1,624.9 L1776.2,626 L1777.2,627.1 L1778.3,628.2 L1779.3,629.3 L1780.4,630.4 L1781.4,631.5 L1782.5,632.7 L1783.5,633.8 L1784.6,634.9 L1785.6,636.1 L1786.7,637.2 L1787.7,638.4 L1788.8,639.6 L1789.8,640.7 L1790.9,641.9 L1791.9,643.1 L1793,644.3 L1794,645.4 L1795.1,646.6 L1796.1,647.8 L1797.1,649 L1798.2,650.2 L1799.2,651.4 L1800.3,652.6 L1801.3,653.8 L1802.4,655 L1803.4,656.2 L1804.5,657.4 L1805.5,658.6 L1806.6,659.8 L1807.6,661 L1808.7,662.2 L1809.7,663.4 L1810.8,664.5 L1811.8,665.7 L1812.9,666.9 L1813.9,668.1 L1815,669.3 L1816,670.4 L1817.1,671.6 L1818.1,672.8 L1819.2,673.9 L1820.2,675.1 L1821.3,676.2 L1822.3,677.4 L1823.4,678.5 L1824.4,679.6 L1825.4,680.7 L1826.5,681.8 L1827.5,683 L1828.6,684 L1829.6,685.1 L1830.7,686.2 L1831.7,687.3 L1832.8,688.4 L1833.8,689.4 L1834.9,690.5 L1835.9,691.5 L1837,692.5 L1838,693.5 L1839.1,694.5 L1840.1,695.5 L1841.2,696.5 L1842.2,697.5 L1843.3,698.5 L1844.3,699.4 L1845.4,700.4 L1846.4,701.3 L1847.5,702.2 L1848.5,703.2 L1849.6,704.1 L1850.6,705 L1851.6,705.8 L1852.7,706.7 L1853.7,707.6 L1854.8,708.4 L1855.8,709.3 L1856.9,710.1 L1857.9,710.9 L1859,711.7 L1860,712.5 L1861.1,713.3 L1862.1,714 L1863.2,714.8 L1864.2,715.5 L1865.3,716.3 L1866.3,717 L1867.4,717.7 L1868.4,718.4 L1869.5,719.1 L1870.5,719.8 L1871.6,720.4 L1872.6,721.1 L1873.7,721.7 L1874.7,722.4 L1875.8,723 L1876.8,723.6 L1877.9,724.2 L1878.9,724.8 L1879.9,725.4 L1881,726 L1882,726.5 L1883.1,727.1 L1884.1,727.6 L1885.2,728.2 L1886.2,728.7 L1887.3,729.2 L1888.3,729.7 L1889.4,730.2 L1890.4,730.7 L1891.5,731.1 L1892.5,731.6 L1893.6,732.1 L1894.6,732.5 L1895.7,733 L1896.7,733.4 L1897.8,733.8 L1898.8,734.2 L1899.9,734.6 L1900.9,735 L1902,735.4 L1903,735.8 L1904.1,736.2 L1905.1,736.6 L1906.2,736.9 L1907.2,737.3" fill="none" stroke="#FF2600" stroke-width="1.6" stroke-linejoin="round" stroke-linecap="round"/>
<g fill="#FF2600">
<circle cx="1656.7" cy="558" r="5.0"/>
<circle cx="1656.7" cy="574" r="5.0"/>
<circle cx="1692.5" cy="553.2" r="5.0"/>
<circle cx="1692.5" cy="561" r="5.0"/>
<circle cx="1692.5" cy="575" r="5.0"/>
<circle cx="1728.4" cy="567.8" r="5.0"/>
<circle cx="1728.4" cy="582" r="5.0"/>
<circle cx="1728.4" cy="609" r="5.0"/>
<circle cx="1728.4" cy="628.4" r="5.0"/>
<circle cx="1764" cy="588.6" r="5.0"/>
<circle cx="1764" cy="621.2" r="5.0"/>
<circle cx="1764" cy="638.4" r="5.0"/>
<circle cx="1800" cy="641.8" r="5.0"/>
<circle cx="1800" cy="651.5" r="5.0"/>
<circle cx="1800" cy="664.2" r="5.0"/>
<circle cx="1835.6" cy="681.7" r="5.0"/>
<circle cx="1835.6" cy="685.6" r="5.0"/>
<circle cx="1835.6" cy="693.3" r="5.0"/>
<circle cx="1871.6" cy="722.5" r="5.0"/>
<circle cx="1871.6" cy="725.9" r="5.0"/>
<circle cx="1907.2" cy="733.2" r="5.0"/>
</g>
<path d="M1656.7,562.3 L1657.7,562.4 L1658.8,562.5 L1659.8,562.6 L1660.9,562.7 L1661.9,562.8 L1663,562.9 L1664,563 L1665.1,563.1 L1666.1,563.2 L1667.2,563.4 L1668.2,563.5 L1669.3,563.6 L1670.3,563.7 L1671.4,563.8 L1672.4,564 L1673.5,564.1 L1674.5,564.2 L1675.6,564.4 L1676.6,564.5 L1677.7,564.7 L1678.7,564.8 L1679.8,565 L1680.8,565.1 L1681.9,565.3 L1682.9,565.4 L1684,565.6 L1685,565.8 L1686,565.9 L1687.1,566.1 L1688.1,566.3 L1689.2,566.5 L1690.2,566.7 L1691.3,566.9 L1692.3,567.1 L1693.4,567.3 L1694.4,567.5 L1695.5,567.7 L1696.5,567.9 L1697.6,568.1 L1698.6,568.4 L1699.7,568.6 L1700.7,568.8 L1701.8,569.1 L1702.8,569.3 L1703.9,569.6 L1704.9,569.9 L1706,570.1 L1707,570.4 L1708.1,570.7 L1709.1,571 L1710.2,571.3 L1711.2,571.6 L1712.3,571.9 L1713.3,572.2 L1714.3,572.5 L1715.4,572.8 L1716.4,573.2 L1717.5,573.5 L1718.5,573.9 L1719.6,574.2 L1720.6,574.6 L1721.7,575 L1722.7,575.3 L1723.8,575.7 L1724.8,576.1 L1725.9,576.5 L1726.9,576.9 L1728,577.4 L1729,577.8 L1730.1,578.2 L1731.1,578.7 L1732.2,579.1 L1733.2,579.6 L1734.3,580.1 L1735.3,580.6 L1736.4,581.1 L1737.4,581.6 L1738.5,582.1 L1739.5,582.6 L1740.5,583.2 L1741.6,583.7 L1742.6,584.3 L1743.7,584.8 L1744.7,585.4 L1745.8,586 L1746.8,586.6 L1747.9,587.2 L1748.9,587.8 L1750,588.5 L1751,589.1 L1752.1,589.8 L1753.1,590.4 L1754.2,591.1 L1755.2,591.8 L1756.3,592.5 L1757.3,593.2 L1758.4,593.9 L1759.4,594.7 L1760.5,595.4 L1761.5,596.2 L1762.6,597 L1763.6,597.7 L1764.7,598.5 L1765.7,599.4 L1766.8,600.2 L1767.8,601 L1768.8,601.9 L1769.9,602.7 L1770.9,603.6 L1772,604.5 L1773,605.4 L1774.1,606.3 L1775.1,607.2 L1776.2,608.1 L1777.2,609.1 L1778.3,610 L1779.3,611 L1780.4,612 L1781.4,613 L1782.5,614 L1783.5,615 L1784.6,616 L1785.6,617.1 L1786.7,618.1 L1787.7,619.2 L1788.8,620.3 L1789.8,621.3 L1790.9,622.4 L1791.9,623.5 L1793,624.6 L1794,625.8 L1795.1,626.9 L1796.1,628 L1797.1,629.2 L1798.2,630.3 L1799.2,631.5 L1800.3,632.7 L1801.3,633.9 L1802.4,635.1 L1803.4,636.3 L1804.5,637.5 L1805.5,638.7 L1806.6,639.9 L1807.6,641.1 L1808.7,642.4 L1809.7,643.6 L1810.8,644.8 L1811.8,646.1 L1812.9,647.3 L1813.9,648.6 L1815,649.8 L1816,651.1 L1817.1,652.4 L1818.1,653.6 L1819.2,654.9 L1820.2,656.2 L1821.3,657.4 L1822.3,658.7 L1823.4,660 L1824.4,661.3 L1825.4,662.5 L1826.5,663.8 L1827.5,665.1 L1828.6,666.3 L1829.6,667.6 L1830.7,668.9 L1831.7,670.1 L1832.8,671.4 L1833.8,672.6 L1834.9,673.9 L1835.9,675.1 L1837,676.4 L1838,677.6 L1839.1,678.8 L1840.1,680.1 L1841.2,681.3 L1842.2,682.5 L1843.3,683.7 L1844.3,684.9 L1845.4,686.1 L1846.4,687.3 L1847.5,688.4 L1848.5,689.6 L1849.6,690.8 L1850.6,691.9 L1851.6,693 L1852.7,694.2 L1853.7,695.3 L1854.8,696.4 L1855.8,697.5 L1856.9,698.6 L1857.9,699.7 L1859,700.7 L1860,701.8 L1861.1,702.9 L1862.1,703.9 L1863.2,704.9 L1864.2,705.9 L1865.3,706.9 L1866.3,707.9 L1867.4,708.9 L1868.4,709.9 L1869.5,710.8 L1870.5,711.8 L1871.6,712.7 L1872.6,713.6 L1873.7,714.5 L1874.7,715.4 L1875.8,716.3 L1876.8,717.2 L1877.9,718 L1878.9,718.9 L1879.9,719.7 L1881,720.5 L1882,721.3 L1883.1,722.1 L1884.1,722.9 L1885.2,723.7 L1886.2,724.4 L1887.3,725.2 L1888.3,725.9 L1889.4,726.6 L1890.4,727.4 L1891.5,728.1 L1892.5,728.7 L1893.6,729.4 L1894.6,730.1 L1895.7,730.7 L1896.7,731.4 L1897.8,732 L1898.8,732.6 L1899.9,733.2 L1900.9,733.8 L1902,734.4 L1903,735 L1904.1,735.6 L1905.1,736.1 L1906.2,736.7 L1907.2,737.2" fill="none" stroke="#0433FF" stroke-width="1.6" stroke-linejoin="round" stroke-linecap="round"/>
<g fill="#0433FF">
<circle cx="1656.7" cy="556.1" r="5.0"/>
<circle cx="1656.7" cy="561" r="5.0"/>
<circle cx="1656.7" cy="571.3" r="5.0"/>
<circle cx="1656.7" cy="618.3" r="5.0"/>
<circle cx="1692.5" cy="532.8" r="5.0"/>
<circle cx="1692.5" cy="542.9" r="5.0"/>
<circle cx="1692.5" cy="557.1" r="5.0"/>
<circle cx="1692.5" cy="573.2" r="5.0"/>
<circle cx="1728.4" cy="556.7" r="5.0"/>
<circle cx="1728.4" cy="564.5" r="5.0"/>
<circle cx="1728.4" cy="576.9" r="5.0"/>
<circle cx="1728.4" cy="593.4" r="5.0"/>
<circle cx="1764" cy="580.4" r="5.0"/>
<circle cx="1764" cy="603.7" r="5.0"/>
<circle cx="1764" cy="607.6" r="5.0"/>
<circle cx="1764" cy="611.5" r="5.0"/>
<circle cx="1800" cy="633.4" r="5.0"/>
<circle cx="1800" cy="643.7" r="5.0"/>
<circle cx="1835.6" cy="654.4" r="5.0"/>
<circle cx="1835.6" cy="664.2" r="5.0"/>
<circle cx="1835.6" cy="671" r="5.0"/>
<circle cx="1871.6" cy="710.8" r="5.0"/>
<circle cx="1871.6" cy="713.7" r="5.0"/>
<circle cx="1907.2" cy="736.1" r="5.0"/>
<circle cx="1907.2" cy="739" r="5.0"/>
</g>
<g stroke="#000" stroke-width="2.9" fill="none" stroke-linecap="butt">
<path d="M1607.5,504.6 V765.8"/>
<path d="M1596.9,754.6 H1984.5"/>
<path d="M1682.6,754.6 V765.8"/>
<path d="M1757.7,754.6 V765.8"/>
<path d="M1832.8,754.6 V765.8"/>
<path d="M1907.9,754.6 V765.8"/>
<path d="M1983,754.6 V765.8"/>
<path d="M1596.9,640.8 H1607.5"/>
<path d="M1596.9,527 H1607.5"/>
</g>
<g font-size="20" font-weight="700">
<text x="1606.9" y="786.8" text-anchor="middle">0.001</text>
<text x="1682" y="786.8" text-anchor="middle">0.01</text>
<text x="1757.1" y="786.8" text-anchor="middle">0.1</text>
<text x="1832.2" y="786.8" text-anchor="middle">1</text>
<text x="1907.3" y="786.8" text-anchor="middle">10</text>
<text x="1982.4" y="786.8" text-anchor="middle">100</text>
<text x="1594.6" y="762.3" text-anchor="end">0</text>
<text x="1594.6" y="648.5" text-anchor="end">50</text>
<text x="1594.6" y="534.7" text-anchor="end">100</text>
</g>
<path d="M1611,709 H1635.7" stroke="#0433FF" stroke-width="1.6"/>
<circle cx="1623.3" cy="709" r="5" fill="#0433FF"/>
<text x="1648.3" y="714.6" font-size="18.3">sgScramble</text>
<path d="M1611,740.1 H1635.7" stroke="#FF2600" stroke-width="1.6"/>
<circle cx="1623.3" cy="740.1" r="5" fill="#FF2600"/>
<text x="1648.3" y="745.8" font-size="18.3">sgTRIM21</text>
<text x="1795.2" y="816.5" font-size="20" font-weight="700" text-anchor="middle" textLength="168.2" lengthAdjust="spacingAndGlyphs">BMS-225975 (µM)</text>
<text x="1523" y="630" font-size="20" font-weight="700" text-anchor="middle" textLength="76.2" lengthAdjust="spacingAndGlyphs" transform="rotate(-90 1523 630)">Viability</text>
<text x="1547" y="632" font-size="18.3" font-weight="700" text-anchor="middle" textLength="163.2" lengthAdjust="spacingAndGlyphs" transform="rotate(-90 1547 632)">(% rel. to DMSO)</text>
<text x="1514" y="499" font-size="38" font-weight="700">h</text>
</svg></body></html>
